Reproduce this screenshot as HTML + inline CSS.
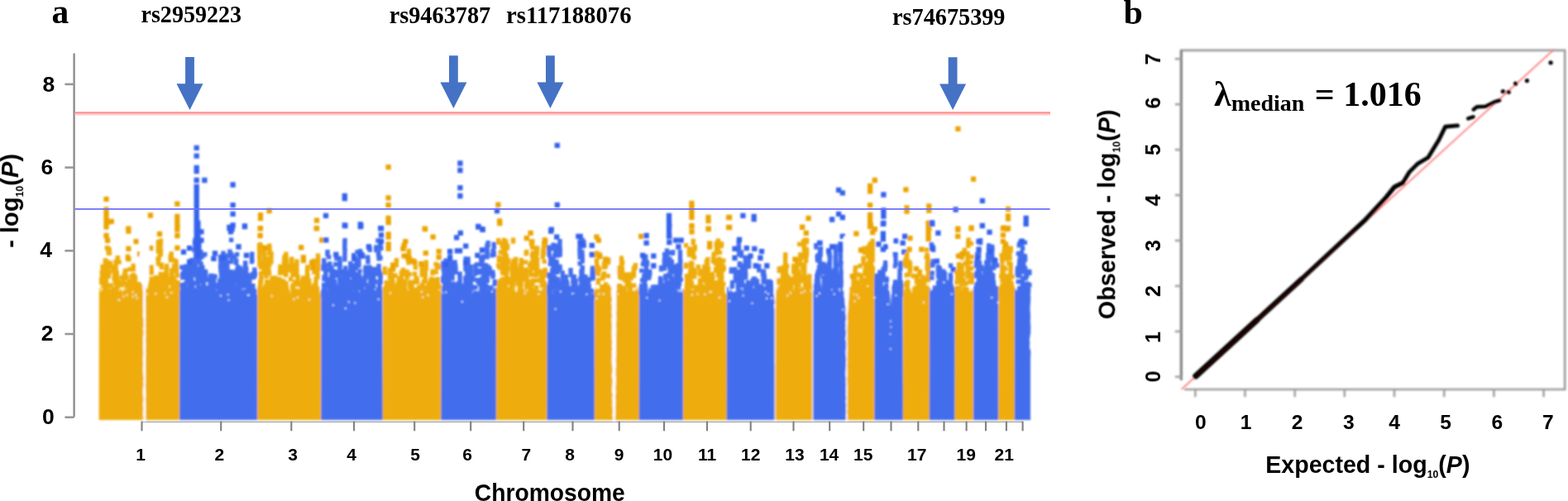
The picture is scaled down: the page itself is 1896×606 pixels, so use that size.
<!DOCTYPE html>
<html lang="en"><head><meta charset="utf-8"><title>Manhattan and QQ plot</title>
<style>
html,body{margin:0;padding:0;background:#fff;overflow:hidden}
svg{display:block}
.ss{filter:url(#bt);font-family:"Liberation Sans",sans-serif;font-weight:bold;fill:#000}
.sr{font-family:"Liberation Serif",serif;font-weight:bold;fill:#000}
</style></head><body>
<svg width="1896" height="606" viewBox="0 0 1896 606">
<defs><filter id="bl" x="-5%" y="-5%" width="110%" height="110%"><feGaussianBlur stdDeviation="0.9"/></filter><filter id="bt" x="-5%" y="-20%" width="110%" height="140%"><feGaussianBlur stdDeviation="0.45"/></filter><filter id="bl2" x="-5%" y="-5%" width="110%" height="110%"><feGaussianBlur stdDeviation="0.5"/></filter></defs>
<rect width="1896" height="606" fill="#fff"/>
<g filter="url(#bl2)" fill="none"><path d="M89.6 64.5V504.4" stroke="#8a8a8a" stroke-width="2.3"/><path d="M78.4 504.7H89.6" stroke="#989898" stroke-width="2.6"/><path d="M78.4 404H89.6" stroke="#989898" stroke-width="2.6"/><path d="M78.4 303.3H89.6" stroke="#989898" stroke-width="2.6"/><path d="M78.4 202.6H89.6" stroke="#989898" stroke-width="2.6"/><path d="M78.4 101.9H89.6" stroke="#989898" stroke-width="2.6"/><path d="M171.5 510.3H1236.6" stroke="#b4b4b4" stroke-width="1.8"/><path d="M171.5 509.6V521.3" stroke="#808080" stroke-width="2.1"/><path d="M267.2 509.6V521.3" stroke="#808080" stroke-width="2.1"/><path d="M352.3 509.6V521.3" stroke="#808080" stroke-width="2.1"/><path d="M428.1 509.6V521.3" stroke="#808080" stroke-width="2.1"/><path d="M501.2 509.6V521.3" stroke="#808080" stroke-width="2.1"/><path d="M569.2 509.6V521.3" stroke="#808080" stroke-width="2.1"/><path d="M633.2 509.6V521.3" stroke="#808080" stroke-width="2.1"/><path d="M692.5 509.6V521.3" stroke="#808080" stroke-width="2.1"/><path d="M748.7 509.6V521.3" stroke="#808080" stroke-width="2.1"/><path d="M803 509.6V521.3" stroke="#808080" stroke-width="2.1"/><path d="M855 509.6V521.3" stroke="#808080" stroke-width="2.1"/><path d="M907.7 509.6V521.3" stroke="#808080" stroke-width="2.1"/><path d="M959.5 509.6V521.3" stroke="#808080" stroke-width="2.1"/><path d="M1003.2 509.6V521.3" stroke="#808080" stroke-width="2.1"/><path d="M1044.2 509.6V521.3" stroke="#808080" stroke-width="2.1"/><path d="M1077.5 509.6V521.3" stroke="#808080" stroke-width="2.1"/><path d="M1110.3 509.6V521.3" stroke="#808080" stroke-width="2.1"/><path d="M1141.5 509.6V521.3" stroke="#808080" stroke-width="2.1"/><path d="M1168.6 509.6V521.3" stroke="#808080" stroke-width="2.1"/><path d="M1192 509.6V521.3" stroke="#808080" stroke-width="2.1"/><path d="M1216.9 509.6V521.3" stroke="#808080" stroke-width="2.1"/><path d="M1236.6 509.6V521.3" stroke="#808080" stroke-width="2.1"/></g>
<g filter="url(#bl)">
<path d="M119.6 508L119.8 348.2L120.8 348.2L120.8 353.1L121.8 353.1L121.8 344.5L122.8 344.5L122.8 351.6L123.8 351.6L123.8 346.3L124.8 346.3L124.8 344.7L125.8 344.7L125.8 344.3L126.8 344.3L126.8 346.6L127.8 346.6L127.8 351.9L128.8 351.9L128.8 346.8L129.8 346.8L129.8 351.1L130.8 351.1L130.8 352.3L131.8 352.3L131.8 350.6L132.8 350.6L132.8 351.4L133.8 351.4L133.8 346.2L134.8 346.2L134.8 345.4L135.8 345.4L135.8 346L136.8 346L136.8 349.5L137.8 349.5L137.8 346.4L138.8 346.4L138.8 346L139.8 346L139.8 349.1L140.8 349.1L140.8 348.5L141.8 348.5L141.8 347.7L142.8 347.7L142.8 352.8L143.8 352.8L143.8 352.6L144.8 352.6L144.8 348.3L145.8 348.3L145.8 351L146.8 351L146.8 350.3L147.8 350.3L147.8 353.3L148.8 353.3L148.8 351.7L149.8 351.7L149.8 347.5L150.8 347.5L150.8 353.3L151.8 353.3L151.8 345.2L152.8 345.2L152.8 347.5L153.8 347.5L153.8 350.1L154.8 350.1L154.8 344.2L155.8 344.2L155.8 346.9L156.8 346.9L156.8 343.4L157.8 343.4L157.8 349.7L158.8 349.7L158.8 351.1L159.8 351.1L159.8 350L160.8 350L160.8 353.3L161.8 353.3L161.8 348.9L162.8 348.9L162.8 351.7L163.8 351.7L163.8 350.2L164.8 350.2L164.8 349.4L165.8 349.4L165.8 347.7L166.8 347.7L166.8 351.1L167.8 351.1L167.8 352.6L168.8 352.6L168.8 348.9L169.8 348.9L169.8 350.6L170.8 350.6L170.8 345.1L171.8 345.1L171.8 350.9L172.8 350.9L172.8 350.8L173.8 350.8L173.8 354.4L174.8 354.4L174.8 352.4L175.8 352.4L175.8 347.1L176.8 347.1L176.8 347.5L177.8 347.5L177.8 349.5L178.8 349.5L178.8 343.2L179.8 343.2L179.8 346.7L180.8 346.7L180.8 344.1L181.8 344.1L181.8 343.7L182.8 343.7L182.8 343.2L183.8 343.2L183.8 349.6L184.8 349.6L184.8 343.9L185.8 343.9L185.8 345L186.8 345L186.8 346.7L187.8 346.7L187.8 351.5L188.8 351.5L188.8 344.8L189.8 344.8L189.8 348.5L190.8 348.5L190.8 349.9L191.8 349.9L191.8 353.3L192.8 353.3L192.8 353.3L193.8 353.3L193.8 354.2L194.8 354.2L194.8 349.5L195.8 349.5L195.8 351.3L196.8 351.3L196.8 351.3L197.8 351.3L197.8 356.6L198.8 356.6L198.8 356.3L199.8 356.3L199.8 348.1L200.8 348.1L200.8 347.4L201.8 347.4L201.8 347L202.8 347L202.8 346L203.8 346L203.8 347.4L204.8 347.4L204.8 348.4L205.8 348.4L205.8 345.6L206.8 345.6L206.8 343.4L207.8 343.4L207.8 347.3L208.8 347.3L208.8 347L209.8 347L209.8 348.9L210.8 348.9L210.8 352.9L211.8 352.9L211.8 351.1L212.8 351.1L212.8 350L213.8 350L213.8 351.5L214.8 351.5L214.8 352.6L215.8 352.6L215.8 347.5L216.8 347.5L216.8 355.5L217.5 355.5L217.5 508Z" fill="#EEAD0E"/>
<path d="M122.6 341.5h0M122.6 338.8h0M123.3 340.7h0M123.5 338.7h0M123.5 336.8h0M123.4 333.9h0M123.4 331.5h0M123.3 329.7h0M124.3 326.5h0M124.2 324.4h0M124 322.4h0M125.5 344.8h0M127.2 352.8h0M127.1 350.5h0M127.2 347.6h0M127 345.2h0M127.1 343.5h0M127.5 341.2h0M127.5 320.2h0M127.4 317.7h0M127.3 315h0M128.4 353.2h0M128.2 351.4h0M128.4 349.4h0M128.2 346.4h0M128.5 344.2h0M128 341.3h0M128.4 339.1h0M128 336.4h0M128.4 334.8h0M128.2 332.2h0M128.3 329.4h0M128.3 318.4h0M129.5 349.9h0M129.6 347.4h0M129.1 323.8h0M129.6 320.7h0M129.3 318.3h0M129.6 316.7h0M129.4 299.6h0M130.5 354.9h0M130.5 353.1h0M130.1 349.8h0M130.2 347.3h0M130.2 345.5h0M130.2 327h0M130.3 324.2h0M130 300.6h0M130.2 291.4h0M131.5 355.2h0M131.3 334.3h0M131.1 332h0M131.2 329.4h0M131.3 306h0M131.2 303.6h0M132 330h0M132.4 306.3h0M132.2 303.7h0M132.2 301.5h0M133 352.5h0M133.5 322.8h0M133.6 319.3h0M133.3 318.1h0M134.1 345.2h0M135.6 354h0M136.5 327h0M137.6 349.8h0M138.3 351.3h0M138.1 337.3h0M138.3 335h0M138.4 332.1h0M138.3 323h0M139.1 339.9h0M140 342.9h0M140.3 341h0M140.2 326.3h0M140.1 324.5h0M140.1 322.2h0M140.1 320.2h0M140.1 316.8h0M141.3 351.6h0M141.1 348.8h0M141.4 346.7h0M141.2 343.7h0M141.5 341.9h0M141.5 337.1h0M141.4 334.4h0M141.1 331.8h0M141.2 330h0M142.1 316.6h0M142.1 313.2h0M142.4 311.6h0M143.1 345.5h0M143.2 342.7h0M143.2 340.2h0M144.4 342.9h0M144.1 317.1h0M147.3 344.7h0M147.3 335.7h0M149 342.8h0M149.2 339.5h0M149.1 337.9h0M149.1 335.7h0M150.4 332.8h0M151.6 353.7h0M151.4 335h0M151 331.9h0M151.1 330.3h0M151.4 327.8h0M152.3 336h0M152.5 334.2h0M152.2 327.1h0M153.4 345.8h0M153.6 342.9h0M153 336.3h0M154.2 311.9h0M154.5 310.1h0M156.4 347.1h0M156.4 344.2h0M156 341.4h0M157.2 325.8h0M158.4 342.8h0M158.6 340.5h0M159.5 339.2h0M159.3 336.4h0M159.1 334.1h0M160.4 353.9h0M160.1 351.6h0M160.4 339.5h0M160.5 334.7h0M161.5 350.3h0M161.3 347.4h0M161 345.5h0M161.1 342.1h0M161.5 339.7h0M161.4 337.5h0M161.4 335.6h0M161.4 332.7h0M161.1 326h0M161.2 323.2h0M161.1 321.4h0M162.3 343.8h0M163.3 355h0M163.2 352.2h0M163.4 350.2h0M163.2 347.3h0M163.1 344.5h0M163.2 342.5h0M163.1 339.7h0M163.5 338h0M163.4 335.1h0M164.3 354.1h0M164.1 352h0M168.3 352.8h0M168.3 351.3h0M168.2 347.9h0M168.5 345.5h0M168.1 343.6h0M170.5 353.4h0M170.1 351h0M170 349.1h0M170.1 346.7h0M182.4 344h0M182.5 341.7h0M183.5 352h0M183.1 349.7h0M183.2 346.9h0M183.5 344.4h0M183.2 337.1h0M183.1 330.1h0M183.3 327.8h0M183 325.7h0M183 323.2h0M185.2 349.1h0M186.5 342.7h0M186.1 339.5h0M186.5 337.7h0M187.1 349.4h0M187.5 345h0M187.4 342.8h0M187.4 340.1h0M188.5 335.7h0M189.5 353.2h0M189.6 350.4h0M189.1 348.8h0M190.4 353h0M190.6 351.4h0M190.1 344.4h0M190 341.7h0M190.3 338.8h0M190.6 336.7h0M191.4 351.8h0M191.3 349.4h0M191.4 318.9h0M191.4 315.9h0M191.1 313.2h0M191.4 304h0M191.3 301.6h0M191.4 297.5h0M191.4 295.3h0M191.4 292.6h0M192.2 312.1h0M192.2 300.3h0M192.3 297h0M192.6 295.4h0M192.3 293.1h0M193.4 345.9h0M193.3 343.4h0M193.2 340.2h0M193.2 338.6h0M193.2 336.2h0M193.5 307.4h0M193.3 305.6h0M193.4 300.4h0M193.5 298h0M193.5 295.6h0M193.3 293.7h0M194.4 353.4h0M194 351h0M194.4 349h0M194.6 333.9h0M194.2 331.5h0M194.2 320.4h0M194.3 307.9h0M194.3 305.8h0M194.5 303h0M194.2 296.3h0M194.3 293.6h0M194.5 291.2h0M195.5 323.4h0M195.4 320.2h0M196.2 356.7h0M196.3 353.7h0M196.4 351.7h0M196.1 349.8h0M196.6 347.7h0M197.3 349.5h0M197.5 347.7h0M197 345.2h0M197.4 342.4h0M197.2 340.3h0M197.1 337.7h0M198.2 336.3h0M198.5 333.4h0M198.1 331.7h0M201.3 347.1h0M201.5 345.2h0M201.3 342.8h0M201.2 341h0M201.2 337.7h0M201.4 335.8h0M201.5 333h0M201 331.5h0M201.2 329.3h0M201.1 326.8h0M201.5 323.9h0M201.6 321.6h0M202.4 351.4h0M205.3 342.9h0M205.2 340.6h0M205.2 338.1h0M206.4 314.7h0M206.1 311.6h0M206.4 310.2h0M207.5 335.2h0M207.3 332.9h0M207.4 331.2h0M207.3 328.8h0M207.5 326.9h0M207.3 314h0M207.4 312.3h0M207.2 309.4h0M207.2 307h0M208.1 331h0M209.1 348h0M209 345.9h0M209.5 338.5h0M209.2 336.2h0M210.6 352.5h0M210.5 350.8h0M210.4 347.5h0M210.6 346h0M210 343h0M210.5 321.5h0M211.5 353.7h0M211.1 351.1h0M211.3 348.1h0M211.4 339.5h0M211 314.9h0M212.3 345h0M212.6 342.3h0M212.1 325.9h0M213.2 352.3h0M213.4 328h0M213.6 326.1h0M213.4 323.7h0M213.2 320.7h0M213 318.7h0M213.1 316.5h0M214.5 354.5h0M214.4 352.8h0M214.1 349.7h0M214.5 333.2h0M215.1 353.1h0M215.1 350.7h0M215 348.2h0M215.6 346.1h0M215.1 343.9h0M215.5 341.8h0" stroke="#EEAD0E" stroke-width="5.4" stroke-linecap="square" fill="none"/>
<path d="M128.5 240.8h0M134.8 267.8h0M155.3 276.7h0M181.9 260.5h0M214.3 246.7h0M128.5 253.5h0M128.5 256.1h0M128.5 258.7h0M128.5 261.3h0M128.5 263.9h0M128.5 266.5h0M128.5 269.1h0M128.5 271.7h0M128.5 274.3h0M214.3 262h0M214.3 264.6h0M214.3 267.2h0M214.3 269.8h0M214.3 272.4h0M214.3 275h0M214.3 277.6h0M128.5 273.2h0M128.5 285h0M130.1 290.6h0M155.4 279.5h0M164.6 292.2h0M155.4 300.9h0M169.2 307.2h0M155.4 313.1h0M182.1 300.1h0M193 283h0M214.4 273.2h0M214.4 285h0M214.4 299.8h0M131.7 268.4h0" stroke="#EBA406" stroke-width="6.3" stroke-linecap="square" fill="none"/>
<path d="M217.1 508L217.3 351.6L218.3 351.6L218.3 348.4L219.3 348.4L219.3 345L220.3 345L220.3 350.7L221.3 350.7L221.3 345.2L222.3 345.2L222.3 352.6L223.3 352.6L223.3 347.8L224.3 347.8L224.3 345.5L225.3 345.5L225.3 351.9L226.3 351.9L226.3 345.9L227.3 345.9L227.3 346.4L228.3 346.4L228.3 345.6L229.3 345.6L229.3 348.3L230.3 348.3L230.3 343L231.3 343L231.3 346.7L232.3 346.7L232.3 345.4L233.3 345.4L233.3 351.9L234.3 351.9L234.3 345L235.3 345L235.3 351L236.3 351L236.3 347.4L237.3 347.4L237.3 348.8L238.3 348.8L238.3 349.4L239.3 349.4L239.3 350.3L240.3 350.3L240.3 344.8L241.3 344.8L241.3 345.3L242.3 345.3L242.3 344.3L243.3 344.3L243.3 351.9L244.3 351.9L244.3 344.7L245.3 344.7L245.3 344.6L246.3 344.6L246.3 348.2L247.3 348.2L247.3 348.8L248.3 348.8L248.3 352.3L249.3 352.3L249.3 345.5L250.3 345.5L250.3 347.9L251.3 347.9L251.3 348L252.3 348L252.3 352.5L253.3 352.5L253.3 352.1L254.3 352.1L254.3 351.5L255.3 351.5L255.3 355.5L256.3 355.5L256.3 353.3L257.3 353.3L257.3 354.9L258.3 354.9L258.3 355.5L259.3 355.5L259.3 349.1L260.3 349.1L260.3 355.6L261.3 355.6L261.3 351.3L262.3 351.3L262.3 348.6L263.3 348.6L263.3 356.8L264.3 356.8L264.3 350L265.3 350L265.3 349.7L266.3 349.7L266.3 351.4L267.3 351.4L267.3 350.7L268.3 350.7L268.3 356.1L269.3 356.1L269.3 354.5L270.3 354.5L270.3 349.7L271.3 349.7L271.3 350L272.3 350L272.3 353.2L273.3 353.2L273.3 353.2L274.3 353.2L274.3 352.2L275.3 352.2L275.3 351.3L276.3 351.3L276.3 348.1L277.3 348.1L277.3 349.6L278.3 349.6L278.3 352.5L279.3 352.5L279.3 350.9L280.3 350.9L280.3 352L281.3 352L281.3 352L282.3 352L282.3 351.7L283.3 351.7L283.3 343.8L284.3 343.8L284.3 344L285.3 344L285.3 352.7L286.3 352.7L286.3 351L287.3 351L287.3 348.7L288.3 348.7L288.3 354.6L289.3 354.6L289.3 351.9L290.3 351.9L290.3 350.8L291.3 350.8L291.3 351L292.3 351L292.3 351.4L293.3 351.4L293.3 351.9L294.3 351.9L294.3 345.5L295.3 345.5L295.3 350.5L296.3 350.5L296.3 349.8L297.3 349.8L297.3 348.8L298.3 348.8L298.3 350.9L299.3 350.9L299.3 352.4L300.3 352.4L300.3 345.6L301.3 345.6L301.3 350.1L302.3 350.1L302.3 352L303.3 352L303.3 352.3L304.3 352.3L304.3 351.8L305.3 351.8L305.3 347.6L306.3 347.6L306.3 354.7L307.3 354.7L307.3 353.2L308.3 353.2L308.3 348.8L309.3 348.8L309.3 351.1L310.3 351.1L310.3 356.5L311.3 356.5L311.5 508Z" fill="#436EEE"/>
<path d="M220.1 344.6h0M219.8 323.2h0M220.6 351.8h0M220.6 349.3h0M221 347.7h0M220.9 335.8h0M220.5 333.6h0M220.8 331.3h0M221.9 352.7h0M222 350.2h0M221.9 347.4h0M222.5 333.3h0M223 330.9h0M222.5 329.5h0M222.7 326.9h0M224 345.2h0M224 343.7h0M225.1 323.7h0M224.8 322.2h0M225.5 352.2h0M226.1 349.9h0M226 340.5h0M226 338.5h0M225.5 335.8h0M225.8 330.4h0M225.8 329h0M226.8 337.9h0M227 335.3h0M226.8 332.5h0M230.1 351.1h0M229.6 349.2h0M229.7 346.2h0M229.6 344.7h0M229.6 339.5h0M230 331.8h0M229.9 329.9h0M229.9 327.2h0M229.7 324.7h0M229.5 322.6h0M229.6 320.4h0M229.6 317.9h0M230.8 346.5h0M230.9 344.7h0M230.5 342.7h0M230.8 340.2h0M230.9 337.6h0M231.8 337.6h0M231.7 335.8h0M231.9 330.6h0M232 328.8h0M232 326.7h0M231.8 323.8h0M232 321.3h0M231.7 319.5h0M231.8 316.8h0M232 314.7h0M232.8 352.3h0M233 351h0M232.9 348.6h0M232.7 346.2h0M233.1 343.6h0M234.7 354.2h0M234.8 342.3h0M234.6 330.4h0M234.7 328.5h0M234.7 326h0M234.8 323h0M234.9 302.1h0M236 332.7h0M235.8 330.3h0M235.8 328.7h0M236 316.4h0M236.1 303h0M236.1 299.7h0M236.1 297.3h0M236 295.6h0M235.5 293.2h0M236 290.5h0M236.5 351.8h0M236.7 323.3h0M236.7 320.6h0M236.7 318h0M237 315.7h0M236.5 313.5h0M236.9 311.3h0M236.7 308.6h0M236.9 300.1h0M236.5 297.2h0M236.5 294.5h0M237.6 329.6h0M237.7 325.4h0M238.7 336.5h0M238.9 334.8h0M238.7 327.4h0M238.8 310.5h0M238.8 308.4h0M239.9 347.9h0M239.6 345.3h0M239.6 343.8h0M239.6 340.8h0M240.1 339.3h0M239.9 317h0M239.8 314.7h0M239.9 313h0M239.8 310.6h0M239.8 295.7h0M240.1 294.2h0M239.6 291.1h0M241 314.2h0M240.7 312.2h0M240.8 299.9h0M240.8 297.7h0M241 295.8h0M240.7 293.6h0M240.9 291.3h0M241.7 336h0M241.7 332.6h0M242 330.8h0M241.6 328h0M243 340.9h0M242.9 337.6h0M243 335.5h0M242.6 333h0M242.9 330.4h0M243 327.9h0M242.9 324h0M242.9 320.9h0M243.1 319.1h0M242.5 311.6h0M243.1 309.7h0M242.9 307.6h0M242.8 304.6h0M244.9 329h0M244.9 325.9h0M244.8 323.4h0M244.8 310.1h0M246 352.1h0M245.5 350.5h0M245.6 348.1h0M246 345.7h0M245.9 342.9h0M245.5 340.2h0M245.7 338h0M245.8 335.5h0M245.9 333.8h0M246.7 345.2h0M246.5 335.4h0M246.7 333.9h0M246.6 330.6h0M247.1 328.5h0M247.5 333.7h0M248 331.7h0M248 328.4h0M247.8 307.7h0M248.8 352.9h0M248.8 338.8h0M248.9 336.7h0M248.8 334.1h0M248.7 332.3h0M248.7 329.3h0M251 352.4h0M251 350.1h0M250.8 348.2h0M250.6 338.7h0M254 349.3h0M254 347.4h0M254.1 344.6h0M254.8 343h0M254.8 339.7h0M254.9 337.3h0M254.6 335.8h0M255 333.4h0M257.1 356.4h0M257 354.4h0M257 351.6h0M258 351h0M257.5 348.8h0M258.8 350.9h0M258.8 348.7h0M259 346.8h0M258.9 343.5h0M258.5 341.6h0M258.8 339.2h0M258.9 337.1h0M258.6 334h0M259.8 355.1h0M260.1 334.6h0M261.7 347.6h0M261.9 344.6h0M265.8 359h0M265.7 356.4h0M265.6 353.5h0M265.8 351h0M265.8 349.5h0M265.5 346.9h0M265.8 344.3h0M265.7 341.4h0M265.8 339.6h0M266.6 355.5h0M266.9 353.4h0M266.7 350.5h0M266.9 327h0M266.6 322.3h0M267.1 320.1h0M267 317.4h0M266.8 314.9h0M266.6 313.2h0M266.5 310.6h0M267.6 338.6h0M267.6 336.2h0M267.6 333.4h0M267.6 330.7h0M267.5 328.3h0M267.8 326.7h0M268 323.6h0M268 321.7h0M267.9 319.1h0M267.5 316.9h0M267.7 314.9h0M268.6 354h0M268.6 351.3h0M268.9 349.2h0M268.6 346.9h0M268.6 344h0M268.6 341.6h0M269.7 346.2h0M269.9 330h0M270 317.2h0M270.1 315h0M270 312.9h0M269.6 311.1h0M269.6 308.8h0M270 306.1h0M271 348h0M271 345.3h0M271.1 343.5h0M271 341.3h0M271.9 352.3h0M271.8 349.5h0M272.7 354.6h0M273.1 352.1h0M272.6 349.7h0M272.9 347.9h0M272.5 344.7h0M273 343.2h0M273 335.8h0M272.7 332.9h0M272.8 330.5h0M272.6 328.3h0M272.7 326.5h0M272.9 323.7h0M273 319.1h0M273 316.7h0M272.6 314.1h0M272.6 309.2h0M273.9 355h0M273.7 352.6h0M273.8 349.8h0M274 348h0M273.9 345.4h0M274.1 342.8h0M273.6 314.3h0M274.6 355.5h0M274.9 353.1h0M274.9 350.8h0M274.8 339.1h0M274.8 335.8h0M275 334h0M274.7 331.3h0M274.9 329.2h0M275 327.4h0M274.8 324.6h0M275 322.7h0M274.8 319.7h0M274.9 317.5h0M275.9 351.5h0M276.7 343.6h0M276.5 341.9h0M276.8 339.6h0M276.8 336.8h0M277.1 335h0M277.9 356.6h0M278 346.7h0M277.7 344.3h0M277.8 342.7h0M277.6 339.5h0M277.9 337h0M278.1 335.6h0M277.6 309.4h0M277.9 304.2h0M278.6 340.9h0M279.1 339.4h0M278.7 336.7h0M278.6 334.8h0M280 330.4h0M280 328.6h0M280 316.5h0M280 314.4h0M280.1 311.9h0M279.9 309.8h0M279.8 307.5h0M279.6 290.3h0M281.1 353.4h0M280.7 351.3h0M281.1 348.9h0M280.6 346.7h0M281 343.8h0M280.5 341.4h0M281 339.6h0M280.8 336.9h0M280.9 334.6h0M281.1 332.4h0M281.6 352.9h0M281.9 350.7h0M281.5 348.1h0M282 345.7h0M282.1 343.3h0M281.6 338.7h0M281.9 336.7h0M281.9 333.6h0M282 331.3h0M283.1 341.9h0M283.8 339.3h0M283.6 337.3h0M283.8 334h0M283.7 310.4h0M285.5 353.5h0M285.7 339.8h0M285.9 337.5h0M285.9 335.1h0M285.5 329.5h0M285.7 318h0M285.7 315.3h0M286.6 354.6h0M287 353h0M286.6 350.3h0M286.7 333h0M286.7 330.8h0M286.8 328.2h0M286.7 326.6h0M286.6 307.8h0M287.5 356.4h0M287.9 353.6h0M287.8 350.8h0M287.8 346.1h0M287.6 325.7h0M287.8 322.9h0M288.8 355.3h0M288.8 353h0M288.9 350.2h0M288.9 347.8h0M288.7 344.9h0M289.1 343h0M289.1 340.3h0M288.8 338.2h0M288.6 335.9h0M288.7 333.2h0M288.5 331.1h0M288.5 328.5h0M288.9 326h0M290 349.2h0M289.7 347.3h0M290 344.7h0M291.1 346h0M290.7 343.1h0M290.5 340.9h0M290.6 338.6h0M290.6 336.9h0M290.7 334.3h0M290.7 324.5h0M292.8 346.5h0M292.8 343.9h0M292.8 341.8h0M292.6 339.7h0M292.5 336.4h0M294 333.4h0M293.7 330.7h0M293.7 328.8h0M294.7 353.3h0M295 341.4h0M295.6 343h0M296.1 341.1h0M295.8 338.4h0M295.9 331.6h0M295.9 329.6h0M296.1 327.1h0M296.8 345.9h0M296.5 343.6h0M296.8 340.8h0M296.8 339.1h0M296.6 336.6h0M296.6 333.8h0M296.5 331.8h0M296.9 330h0M296.8 327.5h0M296.6 325.3h0M296.9 322.4h0M296.5 320.1h0M296.7 318h0M297.7 327.9h0M297.8 325.5h0M299.8 353.7h0M299.6 352.1h0M299.5 349.4h0M299.6 347.3h0M299.6 344.2h0M299.5 337.4h0M301.9 352.1h0M302.1 349.8h0M301.7 347.2h0M301.8 344.9h0M301.9 342.9h0M301.8 340.5h0M301.9 338.8h0M301.5 335.4h0M301.7 333h0M302.8 350.1h0M302.7 348.4h0M303 345.9h0M304 354.6h0M304.9 355.5h0M304.9 352.9h0M304.7 349.9h0M304.5 316.5h0M304.9 314.6h0M304.6 312.8h0M304.6 309.7h0M304.8 307.3h0M305.7 355.5h0M305.8 352.9h0M305.6 350h0M305.7 348.3h0M305.9 345.8h0M306 335.5h0M305.5 334.1h0M305.9 331.4h0M307.6 355.1h0M307.6 352.2h0M307.6 334.2h0M307.6 331.5h0M307.9 329.4h0M307.8 326.2h0M308.5 331.5h0" stroke="#436EEE" stroke-width="5.4" stroke-linecap="square" fill="none"/>
<path d="M237.7 178.9h0M237.7 188.6h0M237.7 202.8h0M237.7 207h0M237.7 218h0M247.4 218h0M281.6 223.5h0M281.6 248.2h0M281.6 258.8h0M281.6 272.5h0M277.4 276.1h0M296 273.5h0M237.7 226h0M237.7 228.2h0M237.7 230.4h0M237.7 232.6h0M237.7 234.8h0M237.7 237h0M237.7 239.2h0M237.7 241.4h0M237.7 243.6h0M237.7 245.8h0M237.7 248h0M237.7 250.2h0M237.7 252.4h0M237.7 254.6h0M237.7 256.8h0M237.7 259h0M237.7 261.2h0M237.7 263.4h0M237.7 265.6h0M237.7 267.8h0M237.7 270h0M237.7 272.2h0M237.7 274.4h0M237.7 276.6h0M237.7 278.8h0M237.7 281h0M237.7 283.2h0M237.7 285.4h0M237.7 287.6h0M237.7 289.8h0M237.7 292h0M237.7 294.2h0M237.7 296.4h0M237.7 298.6h0M277.4 274.8h0M280.6 277.1h0M279 280.3h0M295.9 274h0M288.5 298.5h0M260 306.4h0M298 308.8h0M229.1 300.1h0M222 304.8h0M229.1 316.7h0M243.4 280.3h0M243.4 290.6h0M258.4 312.8h0M269.5 312h0M239.4 270h0M239.4 272.2h0M239.4 274.4h0M239.4 276.6h0M239.4 278.8h0M239.4 281h0M239.4 283.2h0M239.4 285.4h0M239.4 287.6h0M239.4 289.8h0M239.4 292h0M239.4 294.2h0M239.4 296.4h0M239.4 298.6h0M239.4 300.8h0M239.4 303h0M239.4 305.2h0M239.4 307.4h0M239.4 309.6h0" stroke="#3562EC" stroke-width="6.3" stroke-linecap="square" fill="none"/>
<path d="M311.1 508L311.3 353.3L312.3 353.3L312.3 354.8L313.3 354.8L313.3 346.8L314.3 346.8L314.3 347.6L315.3 347.6L315.3 351.1L316.3 351.1L316.3 347.5L317.3 347.5L317.3 346.8L318.3 346.8L318.3 344L319.3 344L319.3 344L320.3 344L320.3 347.5L321.3 347.5L321.3 348.6L322.3 348.6L322.3 347.6L323.3 347.6L323.3 352.7L324.3 352.7L324.3 347.4L325.3 347.4L325.3 346.7L326.3 346.7L326.3 346.9L327.3 346.9L327.3 348.6L328.3 348.6L328.3 352.9L329.3 352.9L329.3 354.6L330.3 354.6L330.3 355.6L331.3 355.6L331.3 356.1L332.3 356.1L332.3 353.7L333.3 353.7L333.3 350.8L334.3 350.8L334.3 354.3L335.3 354.3L335.3 356.7L336.3 356.7L336.3 357.2L337.3 357.2L337.3 352.3L338.3 352.3L338.3 352L339.3 352L339.3 350.6L340.3 350.6L340.3 351.7L341.3 351.7L341.3 351.9L342.3 351.9L342.3 353.5L343.3 353.5L343.3 353.9L344.3 353.9L344.3 351.4L345.3 351.4L345.3 347.8L346.3 347.8L346.3 356.7L347.3 356.7L347.3 351.3L348.3 351.3L348.3 356.1L349.3 356.1L349.3 350.9L350.3 350.9L350.3 354.8L351.3 354.8L351.3 347.5L352.3 347.5L352.3 350.7L353.3 350.7L353.3 344.3L354.3 344.3L354.3 351.8L355.3 351.8L355.3 349.7L356.3 349.7L356.3 349.8L357.3 349.8L357.3 351.8L358.3 351.8L358.3 349.3L359.3 349.3L359.3 356.6L360.3 356.6L360.3 352.4L361.3 352.4L361.3 357.8L362.3 357.8L362.3 356.5L363.3 356.5L363.3 352.6L364.3 352.6L364.3 356.5L365.3 356.5L365.3 353.5L366.3 353.5L366.3 351.7L367.3 351.7L367.3 347.8L368.3 347.8L368.3 348.2L369.3 348.2L369.3 351.9L370.3 351.9L370.3 352.8L371.3 352.8L371.3 347.8L372.3 347.8L372.3 355.6L373.3 355.6L373.3 355.8L374.3 355.8L374.3 354.1L375.3 354.1L375.3 355.3L376.3 355.3L376.3 350.9L377.3 350.9L377.3 355L378.3 355L378.3 349.9L379.3 349.9L379.3 351.7L380.3 351.7L380.3 349.3L381.3 349.3L381.3 350.9L382.3 350.9L382.3 356L383.3 356L383.3 354.5L384.3 354.5L384.3 356.8L385.3 356.8L385.3 350.6L386.3 350.6L386.3 356.5L387.3 356.5L387.3 352.7L388.3 352.7L388.6 508Z" fill="#EEAD0E"/>
<path d="M313.9 353.1h0M313.8 350.5h0M314 348.6h0M313.9 320.3h0M314.1 317.9h0M314 315.7h0M314 312.8h0M313.7 310.6h0M313.7 307.6h0M313.9 306h0M314 302.8h0M313.5 301.1h0M313.6 298.7h0M313.5 296.9h0M314.8 345.5h0M314.7 343.2h0M314.7 340.9h0M314.7 305.2h0M315.1 302.9h0M314.5 300.1h0M314.9 297.6h0M314.7 295.7h0M315.7 340.5h0M315.7 337.8h0M316.1 335.9h0M315.6 332.5h0M315.7 330.8h0M315.6 323.2h0M315.8 320.9h0M316.8 301.3h0M317.1 298.9h0M319 326.9h0M319 325h0M319.1 322h0M320 329.3h0M319.9 326.9h0M320.1 322.2h0M320 320.2h0M319.5 317.5h0M319.8 315.4h0M320 312.4h0M319.5 309.8h0M319.8 308.4h0M319.7 305.4h0M319.7 303.4h0M319.5 300.9h0M321.9 350.5h0M322.1 334.2h0M321.7 331h0M322 328.7h0M321.9 326.8h0M322.6 352.3h0M322.6 350.5h0M322.8 347.5h0M322.7 345.3h0M322.6 343.3h0M322.8 340.6h0M323.1 331h0M323 329.1h0M324 353h0M324 350.4h0M323.9 329.5h0M323.6 326.3h0M323.6 324.8h0M324.1 322.3h0M323.6 319.6h0M324 317.8h0M323.5 315.1h0M323.9 312.9h0M324.6 351.1h0M324.9 348.4h0M325 346.6h0M325 329.1h0M324.9 326.9h0M325.8 353.9h0M325.8 351.8h0M325.6 348.8h0M325.8 344.3h0M325.5 341.4h0M325.5 330.4h0M325.7 320.6h0M325.6 306.6h0M326 303.4h0M326.1 301.5h0M325.9 298.8h0M325.7 297.1h0M326.7 354.5h0M327.7 349.3h0M328 347.1h0M327.7 345.4h0M328 316.9h0M327.7 314.2h0M327.9 311.9h0M328 309.1h0M328.1 306.9h0M328.7 355.2h0M328.7 352.8h0M328.6 350.8h0M329 347.5h0M328.8 345.5h0M329 343h0M328.6 341.3h0M329 338.4h0M328.9 336.2h0M329.6 355.8h0M330 353.5h0M330.1 350.2h0M329.8 347.9h0M330.9 346.8h0M330.8 344.6h0M330.8 341.7h0M330.7 339.3h0M332.6 351.8h0M332.7 347.6h0M332.6 345.4h0M333.1 342.4h0M332.6 340.3h0M332.5 338.5h0M332.9 336.2h0M333.9 357.2h0M333.8 355.5h0M334.1 353.2h0M334.9 346.5h0M334.8 343.9h0M335.8 356.6h0M336.1 354.5h0M335.7 351.5h0M335.7 349.5h0M335.6 346.9h0M336.6 348.6h0M337 346h0M338 354.6h0M337.7 352.3h0M337.6 345.3h0M338 343h0M337.9 339.9h0M337.9 337.7h0M338.9 355.5h0M338.7 354h0M338.8 351h0M339 348.8h0M339.1 346.4h0M338.6 344.1h0M338.6 330.2h0M338.7 327.9h0M338.9 325.2h0M339 322.5h0M339.8 355.5h0M340.1 353.1h0M339.7 343.8h0M340 341.4h0M341.8 348.8h0M341.9 341.3h0M342.6 354.5h0M342.7 351.5h0M342.7 349.6h0M342.5 346.6h0M342.6 340h0M343 330.1h0M343.1 328.5h0M343.6 350.8h0M343.6 324h0M343.8 321.7h0M344 319.4h0M343.5 317.3h0M343.8 314.3h0M343.9 312.5h0M344 310.7h0M344.8 320h0M344.7 317.9h0M345.1 315.7h0M344.7 313.4h0M346.1 346.8h0M346.1 344.4h0M345.8 342.8h0M345.6 332.5h0M345.9 331.2h0M345.7 328.8h0M345.7 325.5h0M345.6 323.7h0M345.8 321.6h0M345.7 318.8h0M345.9 316.7h0M345.7 314.3h0M346.1 311.8h0M345.9 309.4h0M345.9 307.1h0M346.8 353.1h0M346.9 350.6h0M346.5 348.1h0M346.7 327h0M346.6 315.4h0M348 358.6h0M347.8 356.5h0M347.9 353.4h0M348.6 326.8h0M348.8 324.3h0M348.7 321.3h0M351.6 337.7h0M353 319.4h0M352.6 317.7h0M352.6 315.6h0M352.8 313.3h0M353.7 347.4h0M354.1 345.2h0M354 332.5h0M353.8 330.1h0M354 327.9h0M354 325.9h0M353.7 324h0M353.7 321.1h0M354.7 353.1h0M354.9 350h0M355.8 354.3h0M357 343.6h0M356.6 341.3h0M357.6 356h0M359 354.5h0M358.7 351.8h0M358.7 332.9h0M358.7 331.1h0M359 328.5h0M358.6 326.2h0M358.8 323.4h0M358.8 321h0M359 319.2h0M358.9 316.2h0M359.8 339.6h0M359.9 337h0M360.1 334.9h0M360.5 344.2h0M362.7 353.4h0M363.5 358.2h0M363.6 356.5h0M364.1 353.5h0M364.6 349.5h0M364.6 346.3h0M364.6 344.8h0M365 342.6h0M365.9 358.5h0M365.6 340h0M366.6 357h0M367 355.7h0M366.5 351h0M366.7 348.4h0M366.7 345.4h0M366.9 343.9h0M366.6 341.1h0M366.8 338.7h0M366.6 336.2h0M368.1 356.5h0M368.7 338.6h0M371.7 353.6h0M371.8 351.7h0M372.1 349.3h0M371.5 346h0M372 343.9h0M372 341.8h0M371.6 339.5h0M371.9 337.5h0M372 334.5h0M371.7 332.7h0M371.5 329.9h0M371.5 327h0M371.8 324.6h0M372 322.9h0M373.7 355.9h0M373.6 354.1h0M373.8 352h0M373.9 342h0M373.6 339.4h0M376.9 357.1h0M376.6 347h0M377.9 356.8h0M377.9 354.8h0M377.7 352.1h0M378.8 352.4h0M379.7 350.2h0M379.6 348.1h0M380 329.2h0M379.9 327.4h0M379.6 324.6h0M379.8 322.8h0M379.8 319.5h0M379.9 318h0M379.8 315.4h0M380.7 344.6h0M381.7 352.1h0M381.9 349.6h0M381.9 347h0M381.9 345.6h0M382 343h0M382 340.7h0M382.1 337.5h0M381.5 322h0M381.8 318.6h0M383.5 358.3h0M383.7 356.6h0M383.6 353.9h0M383.7 351.2h0M383.7 349h0M384.1 335.4h0M383.7 332.5h0M384 330.6h0M384.8 325.3h0M384.8 323.2h0M384.9 320.9h0M384.5 318.4h0M384.8 315.7h0M384.9 313.5h0M384.6 311.4h0M384.5 309.2h0M385.9 358.2h0" stroke="#EEAD0E" stroke-width="5.4" stroke-linecap="square" fill="none"/>
<path d="M315 260.2h0M315 264h0M325.6 255h0M315 276.1h0M383 266.6h0M383 276.1h0M314.6 276.3h0M314.6 285h0M321 299.8h0M364.2 299.3h0M366.9 311.5h0M366.9 315.1h0M377.2 317.5h0M378.3 323.9h0M382.7 276.3h0M389.1 290.3h0" stroke="#EBA406" stroke-width="6.3" stroke-linecap="square" fill="none"/>
<path d="M388.2 508L388.4 349.9L389.4 349.9L389.4 350.7L390.4 350.7L390.4 352.9L391.4 352.9L391.4 347L392.4 347L392.4 349.2L393.4 349.2L393.4 344.5L394.4 344.5L394.4 350.1L395.4 350.1L395.4 345L396.4 345L396.4 352.4L397.4 352.4L397.4 353.2L398.4 353.2L398.4 354.5L399.4 354.5L399.4 349.2L400.4 349.2L400.4 353.7L401.4 353.7L401.4 348.4L402.4 348.4L402.4 356.6L403.4 356.6L403.4 354.2L404.4 354.2L404.4 348.4L405.4 348.4L405.4 349.5L406.4 349.5L406.4 349.3L407.4 349.3L407.4 350.9L408.4 350.9L408.4 355.7L409.4 355.7L409.4 353.8L410.4 353.8L410.4 349.1L411.4 349.1L411.4 352.9L412.4 352.9L412.4 345.2L413.4 345.2L413.4 350.7L414.4 350.7L414.4 349.9L415.4 349.9L415.4 347.8L416.4 347.8L416.4 356L417.4 356L417.4 354.4L418.4 354.4L418.4 358.1L419.4 358.1L419.4 354.7L420.4 354.7L420.4 354.4L421.4 354.4L421.4 349.8L422.4 349.8L422.4 352.7L423.4 352.7L423.4 356.4L424.4 356.4L424.4 353.2L425.4 353.2L425.4 353.5L426.4 353.5L426.4 351.6L427.4 351.6L427.4 350.3L428.4 350.3L428.4 346.8L429.4 346.8L429.4 348.3L430.4 348.3L430.4 347.7L431.4 347.7L431.4 346.5L432.4 346.5L432.4 345.9L433.4 345.9L433.4 351.9L434.4 351.9L434.4 353.8L435.4 353.8L435.4 350.8L436.4 350.8L436.4 351.7L437.4 351.7L437.4 346L438.4 346L438.4 351.6L439.4 351.6L439.4 347.2L440.4 347.2L440.4 351.3L441.4 351.3L441.4 345.6L442.4 345.6L442.4 346L443.4 346L443.4 347.9L444.4 347.9L444.4 345.1L445.4 345.1L445.4 345.3L446.4 345.3L446.4 349.4L447.4 349.4L447.4 349.8L448.4 349.8L448.4 351.5L449.4 351.5L449.4 349.1L450.4 349.1L450.4 347L451.4 347L451.4 348.7L452.4 348.7L452.4 350.4L453.4 350.4L453.4 351L454.4 351L454.4 354.6L455.4 354.6L455.4 351.4L456.4 351.4L456.4 354.9L457.4 354.9L457.4 350.6L458.4 350.6L458.4 350.3L459.4 350.3L459.4 346.5L460.4 346.5L460.4 349.1L461.4 349.1L461.4 350.1L462.4 350.1L463 508Z" fill="#436EEE"/>
<path d="M390.7 356.3h0M391.1 353.3h0M390.9 325.1h0M391 322.3h0M391.8 350.2h0M392.2 347.7h0M391.7 344.8h0M392.1 337.7h0M392 335.2h0M392 318.7h0M391.7 316.3h0M391.8 314.9h0M394 333.9h0M393.8 331h0M394 328.9h0M393.8 325.8h0M394.1 321h0M395 346.5h0M395.2 343.7h0M395.7 338.2h0M395.9 307.5h0M396.1 304.8h0M398 337.7h0M397.7 310.9h0M398.9 352.1h0M399 350.4h0M398.8 348.2h0M398.7 345.4h0M398.6 343.1h0M398.7 340.8h0M398.6 326.6h0M398.7 321.1h0M398.8 318.9h0M400 355.6h0M400.2 353.3h0M399.7 350.4h0M400.8 347.5h0M401.1 344.9h0M400.9 342.8h0M400.7 339.7h0M400.7 335.4h0M400.9 333.1h0M401 330h0M401.2 328.3h0M401 326.4h0M400.8 323.8h0M402 354.8h0M401.9 352.2h0M401.7 349.8h0M401.7 337.5h0M402.9 344.5h0M403.1 343.2h0M402.7 340.1h0M402.7 338.3h0M402.9 335.3h0M402.7 333.1h0M402.7 327.9h0M403.7 342.5h0M404.7 354.6h0M404.9 352.2h0M405.1 350.3h0M405 348.2h0M405.2 344.9h0M404.8 342.6h0M404.8 340.5h0M405.1 333.6h0M404.6 331.5h0M404.8 328.4h0M406 355.1h0M405.6 352.6h0M405.8 350.6h0M405.7 348h0M405.8 333.3h0M405.9 330.7h0M405.8 319.7h0M406.9 312.7h0M407.7 356.6h0M407.7 354.5h0M407.7 352.5h0M407.8 349.4h0M407.8 347.3h0M409.2 356.4h0M408.7 354h0M409.2 352h0M409.1 349.7h0M409.7 355.7h0M410.1 353.8h0M410.2 351.5h0M410.1 349.1h0M409.7 332.4h0M410 329.6h0M411 345.1h0M411.1 342.9h0M410.9 340.5h0M411 338.2h0M410.7 336.7h0M410.8 324.5h0M411.2 321.7h0M411.2 319.2h0M410.9 317h0M410.9 315.4h0M410.6 312.4h0M413.7 331.1h0M413.8 328.2h0M414.9 355.6h0M414.8 352.9h0M414.7 350.7h0M414.6 348.8h0M414.9 345.6h0M414.8 343.7h0M414.9 340.7h0M415.6 346.9h0M415.7 344.2h0M416 337.4h0M416.2 335.2h0M416.7 352.1h0M416.7 349.3h0M416.9 347.3h0M416.7 344.3h0M417.1 342.8h0M416.8 340h0M416.6 330.4h0M416.9 328.8h0M416.8 313.7h0M416.9 311.3h0M416.9 309.5h0M416.9 307.2h0M417 304.5h0M417.1 301.7h0M416.7 300h0M416.7 297.5h0M417 294.6h0M416.8 292.6h0M417.1 290.6h0M418.2 358h0M418 355.4h0M417.6 352.6h0M418.2 350.3h0M417.8 348.1h0M418.1 346.1h0M417.6 343h0M418.1 341.3h0M418.2 338.2h0M417.8 336.1h0M418.2 334h0M417.7 331.1h0M418 329.3h0M417.7 324.1h0M420.1 351.2h0M419.7 348.8h0M420.8 351h0M420.9 347.8h0M420.9 346.1h0M420.7 335.9h0M420.7 334.1h0M421.1 331.7h0M420.7 329.6h0M423.1 352.7h0M423 350.7h0M422.8 348.5h0M423.1 345.6h0M422.8 343.8h0M422.8 340.3h0M422.7 333.5h0M422.9 331.8h0M424.1 356.7h0M424 345.1h0M423.7 328.5h0M423.8 326.4h0M423.9 324.3h0M423.9 322.2h0M423.8 318.8h0M425 355h0M424.8 352.3h0M424.7 349.6h0M424.6 348h0M424.8 345h0M425 343.2h0M425 340.6h0M424.8 330.6h0M426.1 323.8h0M426.2 321.2h0M427 333h0M426.8 330.6h0M426.9 327.6h0M427.8 344.3h0M427.9 342.2h0M428 339.2h0M427.9 336.7h0M427.7 334.7h0M428.2 332h0M428 330.2h0M428.1 327.5h0M427.9 325.4h0M428 322.7h0M427.9 313.4h0M427.7 311.1h0M427.7 308.6h0M430 355.4h0M429.9 348h0M429.8 346.4h0M430 342.9h0M430 341.6h0M430.1 331.6h0M431 338.8h0M430.7 336.4h0M430.8 334h0M430.6 324.2h0M431 321.4h0M431 316.7h0M432 342.7h0M431.8 340.3h0M432 337.7h0M431.8 336.3h0M431.7 333.8h0M432 304.9h0M433 346.8h0M432.7 344.5h0M433.8 339.7h0M433.9 337.1h0M433.6 335h0M433.7 332.2h0M433.9 321.3h0M434 318.8h0M433.8 316.2h0M433.9 314.1h0M435 348.8h0M435 346.6h0M434.7 344.7h0M435.1 342.1h0M434.8 339.7h0M434.7 337.8h0M435 334.8h0M435 328h0M434.9 308.4h0M434.7 306.7h0M435.9 310.4h0M435.8 309h0M435.8 306.3h0M435.6 303.7h0M437.8 353.3h0M437.9 351h0M437.7 348.6h0M438 346.5h0M437.9 343.5h0M438.1 307.9h0M439.2 343.2h0M438.9 341h0M439 338.3h0M439 310.2h0M441 352.8h0M441 342.9h0M440.7 340.6h0M441 338.9h0M440.9 336.2h0M442 336.4h0M441.9 333.6h0M442.2 330.8h0M442 329h0M441.7 326.6h0M442.1 323.4h0M443.1 344.6h0M443.7 352.6h0M444.2 333.7h0M443.6 331.1h0M443.6 328.4h0M443.6 326.3h0M444.6 347.7h0M444.9 316.9h0M445 314.7h0M444.8 311.3h0M446 332.7h0M446.9 327.7h0M446.8 325.6h0M446.8 323.1h0M447.2 302.3h0M446.9 300.2h0M447.8 339.4h0M448.8 344.4h0M448.7 342.5h0M448.9 339.4h0M448.8 337.1h0M448.8 335.6h0M448.7 332.9h0M449 330.6h0M449.7 352.7h0M449.9 349.8h0M450.1 348h0M449.9 345.5h0M451.1 341.1h0M451.2 338.9h0M451.9 346.4h0M451.7 341.3h0M452.1 339.4h0M451.8 337.2h0M451.7 334.3h0M451.9 331.8h0M451.8 330.2h0M451.7 327h0M451.9 325.5h0M453.1 325.6h0M454.1 340.8h0M454.9 302.6h0M454.7 300.7h0M455 298.9h0M456.9 355.3h0M456.8 352.9h0M457.2 350.4h0M457 331.2h0M456.9 291h0M458.1 331.9h0M457.7 328.6h0M458.2 326.4h0M457.9 324.7h0M458 321.6h0M458.1 312.9h0M458.2 310.4h0M457.6 307.8h0M457.9 305.3h0M459 355.2h0M458.9 352.8h0M458.8 350.3h0M459.1 347.7h0M458.7 346.3h0M458.8 343.9h0M458.7 331h0M458.8 329.7h0M460.1 341.3h0M459.7 338.9h0M459.8 335.8h0M460.2 334.3h0M460 331.7h0M460 312h0M459.9 298.7h0M459.7 295.8h0M459.8 293.4h0M460 291.2h0M460.8 300.2h0" stroke="#436EEE" stroke-width="5.4" stroke-linecap="square" fill="none"/>
<path d="M394 260.9h0M416.8 237h0M416.8 240h0M416.8 272.5h0M435.8 271.4h0M435.8 274.2h0M460.1 276.1h0M394.3 290.3h0M417.4 273.2h0M436.4 273.2h0M445.9 298.5h0M461 276.3h0M461 284.3h0M461 292.2h0M406.3 308h0M428.5 312h0M436.4 308h0" stroke="#3562EC" stroke-width="6.3" stroke-linecap="square" fill="none"/>
<path d="M462.6 508L462.8 348.7L463.8 348.7L463.8 351.5L464.8 351.5L464.8 347L465.8 347L465.8 353.7L466.8 353.7L466.8 356.2L467.8 356.2L467.8 349.3L468.8 349.3L468.8 352.1L469.8 352.1L469.8 352.5L470.8 352.5L470.8 352.3L471.8 352.3L471.8 352L472.8 352L472.8 347L473.8 347L473.8 349.8L474.8 349.8L474.8 345.3L475.8 345.3L475.8 349.3L476.8 349.3L476.8 347.1L477.8 347.1L477.8 348L478.8 348L478.8 351.1L479.8 351.1L479.8 344.9L480.8 344.9L480.8 348.1L481.8 348.1L481.8 347.5L482.8 347.5L482.8 345.7L483.8 345.7L483.8 353L484.8 353L484.8 348.5L485.8 348.5L485.8 349L486.8 349L486.8 349.6L487.8 349.6L487.8 355.2L488.8 355.2L488.8 354.4L489.8 354.4L489.8 350.9L490.8 350.9L490.8 352.2L491.8 352.2L491.8 350.9L492.8 350.9L492.8 352L493.8 352L493.8 347.1L494.8 347.1L494.8 348.6L495.8 348.6L495.8 353.9L496.8 353.9L496.8 347.4L497.8 347.4L497.8 350L498.8 350L498.8 348.5L499.8 348.5L499.8 347.3L500.8 347.3L500.8 348.9L501.8 348.9L501.8 349.8L502.8 349.8L502.8 348.9L503.8 348.9L503.8 351L504.8 351L504.8 346.8L505.8 346.8L505.8 345.9L506.8 345.9L506.8 347.8L507.8 347.8L507.8 350.5L508.8 350.5L508.8 347.6L509.8 347.6L509.8 342.9L510.8 342.9L510.8 346.8L511.8 346.8L511.8 351.6L512.8 351.6L512.8 346L513.8 346L513.8 350.6L514.8 350.6L514.8 349L515.8 349L515.8 352.3L516.8 352.3L516.8 355.2L517.8 355.2L517.8 351.1L518.8 351.1L518.8 349.5L519.8 349.5L519.8 351.8L520.8 351.8L520.8 356.4L521.8 356.4L521.8 347.6L522.8 347.6L522.8 349.9L523.8 349.9L523.8 348.7L524.8 348.7L524.8 350.6L525.8 350.6L525.8 353L526.8 353L526.8 350.6L527.8 350.6L527.8 350.5L528.8 350.5L528.8 346.8L529.8 346.8L529.8 349.9L530.8 349.9L530.8 352.1L531.8 352.1L531.8 348.7L532.8 348.7L532.8 346.1L533.7 346.1L533.7 508Z" fill="#EEAD0E"/>
<path d="M465.6 356.2h0M465.4 351h0M465.4 348.9h0M465.4 329.8h0M465.1 327.9h0M465.2 325h0M466.5 356.5h0M466.5 349.6h0M467.5 344.5h0M467.1 341.8h0M468.5 354.3h0M468.1 351.9h0M468.5 349.8h0M468.5 347.1h0M469.5 357.6h0M469.2 355.2h0M469.4 352.7h0M469.3 350.3h0M469.1 347.6h0M470.4 356.2h0M470.2 353.8h0M470.1 351.8h0M470.4 349.3h0M470.4 347h0M470.2 344.8h0M470.4 341.9h0M471.4 335.9h0M471.4 333.3h0M471.4 331.8h0M471.2 329.5h0M471.6 326.4h0M473.2 341.6h0M473.5 338.9h0M473.2 334h0M473.3 331.8h0M474 352.6h0M474.6 349.3h0M474.5 347.9h0M474.3 344.6h0M474.3 342.1h0M474.6 339.7h0M474.5 337.7h0M474.1 335.4h0M474.3 333.3h0M475 346.3h0M475.3 343.7h0M475 341.5h0M476.6 350.8h0M478.5 352.3h0M478.2 349.2h0M478.3 346.7h0M478.1 333.3h0M479.3 320.8h0M479.3 319.4h0M479.2 316.8h0M479.5 314.6h0M481.2 352.8h0M481.3 349.7h0M481.4 347.6h0M481.1 345.9h0M481.5 342.9h0M482.4 353.6h0M482.2 350.6h0M482.2 341h0M482.4 339h0M482.3 336.8h0M483.5 344.9h0M483.2 342.8h0M483.4 340.2h0M483.4 337.2h0M484.3 354.6h0M485.3 353.7h0M485.4 346.4h0M485 343.5h0M485.1 341.6h0M485.2 338.7h0M485.1 337.1h0M485.4 334.8h0M485.5 332.6h0M485.4 329.7h0M487.1 331.6h0M487.1 329.5h0M487.4 326.5h0M488.5 357.8h0M488 355.1h0M488.4 352.2h0M488.2 350.2h0M488.4 340.6h0M489.2 356.5h0M489.1 354.4h0M489.4 352h0M489.3 350.3h0M489.5 347.3h0M489.2 345.3h0M489.4 343.4h0M489.5 340.2h0M490.5 356.7h0M490 354.2h0M490.5 352h0M491 357h0M492.4 335.4h0M492 333.3h0M492.3 331.2h0M492.2 328.7h0M494 317.9h0M494.1 315.9h0M494.5 312.7h0M494.6 310.4h0M494.5 307.8h0M494.6 306h0M494.3 303.5h0M495.5 346.1h0M495.4 342.7h0M495.2 341.3h0M495.2 331.8h0M496.2 354.1h0M496.6 347.2h0M496.1 345.1h0M497.2 348.2h0M498.4 353.1h0M498 350.4h0M498.3 348.4h0M498.2 346.2h0M498.1 343.6h0M498.4 341.1h0M501.5 331.3h0M502.4 323.6h0M503.5 352.7h0M503.3 350.6h0M503.3 341.4h0M503.1 339.1h0M503.3 336.5h0M504.5 341.2h0M504.4 338.8h0M505.4 353.6h0M506.3 347.6h0M510.2 346.7h0M510.3 345h0M510.2 332.8h0M510.2 331h0M510.5 328.5h0M510.2 325.8h0M510.1 323.3h0M510.1 321.3h0M511.5 348.7h0M511.1 346.6h0M512.5 353h0M512.4 350.7h0M512.5 348.2h0M512.4 340.8h0M514.1 354.9h0M514.2 347.7h0M514.3 339.9h0M514.1 338.3h0M514.1 335.8h0M514.3 332.6h0M514.2 331.2h0M514.3 328.5h0M515.4 324.8h0M515.4 322.8h0M515.4 320.1h0M515.2 317.1h0M518.5 356.7h0M518.5 354.2h0M518.6 352.7h0M518.2 349.6h0M518.4 347.2h0M518.2 343.4h0M520.3 356.2h0M520 349.5h0M520.5 340h0M522.1 344.9h0M522.2 342.7h0M522.5 339.4h0M522 337.3h0M523.1 354.3h0M523.5 344.2h0M523.4 342.5h0M523 330.4h0M523.4 328.1h0M524.5 355.6h0M524 353.4h0M524.2 351h0M524.6 348.1h0M524 344h0M524.5 341.9h0M524.5 338.7h0M525.5 355.5h0M526.5 355.1h0M527.5 352h0M527.2 349.9h0M527.6 347.6h0M527.5 345h0M527.3 329h0M527.1 319.4h0M528.4 323.3h0M529.3 343.8h0M529.3 342.4h0M529.2 339.1h0M529.3 337.8h0M530.6 323.4h0M530.1 321.1h0M531.6 346.8h0" stroke="#EEAD0E" stroke-width="5.4" stroke-linecap="square" fill="none"/>
<path d="M469.6 202.2h0M469.6 239.3h0M469.6 248.2h0M469.6 264h0M469.6 267.8h0M513.7 276.7h0M490.3 292.2h0M488.7 296.9h0M487.4 300.9h0M491.1 309.6h0M495 313.1h0M499 315.6h0M501.4 317.5h0M469.7 269.2h0M469.7 283.5h0M469.7 286.6h0M469.7 295.3h0M469.7 300.9h0M475.2 320.7h0M475.2 325.4h0M514.1 277.1h0M523.6 286.6h0M514.8 306.1h0M530.7 304.1h0M530.7 311.2h0M488.7 309.6h0M493.5 312.8h0M499.8 315.9h0M509.3 319.1h0" stroke="#EBA406" stroke-width="6.3" stroke-linecap="square" fill="none"/>
<path d="M533.3 508L533.5 354.4L534.5 354.4L534.5 349.2L535.5 349.2L535.5 356.3L536.5 356.3L536.5 352.2L537.5 352.2L537.5 351.9L538.5 351.9L538.5 353L539.5 353L539.5 348.2L540.5 348.2L540.5 343.4L541.5 343.4L541.5 346.6L542.5 346.6L542.5 348.3L543.5 348.3L543.5 349.4L544.5 349.4L544.5 352.3L545.5 352.3L545.5 345.8L546.5 345.8L546.5 346.4L547.5 346.4L547.5 351L548.5 351L548.5 345.9L549.5 345.9L549.5 350.1L550.5 350.1L550.5 346.7L551.5 346.7L551.5 344.2L552.5 344.2L552.5 350.8L553.5 350.8L553.5 348.8L554.5 348.8L554.5 350.8L555.5 350.8L555.5 345.4L556.5 345.4L556.5 353L557.5 353L557.5 346.8L558.5 346.8L558.5 350.6L559.5 350.6L559.5 352.1L560.5 352.1L560.5 351L561.5 351L561.5 345.2L562.5 345.2L562.5 349.8L563.5 349.8L563.5 347.8L564.5 347.8L564.5 344.9L565.5 344.9L565.5 351.3L566.5 351.3L566.5 352.6L567.5 352.6L567.5 344.6L568.5 344.6L568.5 345.1L569.5 345.1L569.5 349.6L570.5 349.6L570.5 351.5L571.5 351.5L571.5 354.7L572.5 354.7L572.5 353.9L573.5 353.9L573.5 350.9L574.5 350.9L574.5 354.9L575.5 354.9L575.5 353.8L576.5 353.8L576.5 351.4L577.5 351.4L577.5 353.6L578.5 353.6L578.5 351.4L579.5 351.4L579.5 350.1L580.5 350.1L580.5 354.5L581.5 354.5L581.5 351.4L582.5 351.4L582.5 352.4L583.5 352.4L583.5 349.8L584.5 349.8L584.5 353.6L585.5 353.6L585.5 350.8L586.5 350.8L586.5 348L587.5 348L587.5 354.4L588.5 354.4L588.5 353.2L589.5 353.2L589.5 354.4L590.5 354.4L590.5 349.6L591.5 349.6L591.5 354.6L592.5 354.6L592.5 350.7L593.5 350.7L593.5 349.3L594.5 349.3L594.5 345.1L595.5 345.1L595.5 345.2L596.5 345.2L596.5 350.3L597.5 350.3L597.5 346.7L598.5 346.7L598.5 348.1L599.5 348.1L599.5 349L600.2 349L600.2 508Z" fill="#436EEE"/>
<path d="M535.7 339.7h0M535.7 337h0M536.3 326.1h0M536.3 323.4h0M535.8 321.4h0M536 318.2h0M537 350.3h0M537.1 348.6h0M537.1 339.2h0M537.3 335.8h0M536.8 334.1h0M537 331.2h0M538.3 347.4h0M537.8 345.1h0M538.8 353.2h0M538.8 351.2h0M538.9 347.9h0M539 331.8h0M539.1 329.4h0M538.8 326.9h0M539 324.9h0M538.8 322.6h0M539.2 320.4h0M538.8 317.7h0M539 315.2h0M540.1 347.8h0M541.1 340.2h0M540.8 337.9h0M541 336.2h0M541 323.7h0M541.9 347.1h0M542 345.1h0M542.1 342.4h0M542.3 333.3h0M542.1 331.1h0M541.8 329.2h0M543.2 353.2h0M543.3 343.6h0M542.8 340.2h0M542.8 338.2h0M543.2 335.9h0M543.1 333.6h0M543 331h0M543.2 329.5h0M543.2 326.4h0M544 351h0M544 335.6h0M544 334.3h0M544 331h0M544.2 329.6h0M543.8 326.6h0M544.2 324.6h0M543.8 322.2h0M544.1 319h0M543.9 317.1h0M544.2 314.9h0M544 312.6h0M544.1 310.2h0M547.3 352.5h0M547.2 350.9h0M546.9 348.3h0M547 336.9h0M547.1 334.3h0M546.8 331.7h0M546.8 329.5h0M547.1 327.5h0M546.8 324.1h0M547.2 322.5h0M546.9 319.9h0M546.7 317.9h0M547.8 345.8h0M547.8 343.2h0M547.7 329.6h0M549.9 349.7h0M549.7 347.4h0M549.8 345h0M549.7 329.2h0M550 326.9h0M549.9 324.8h0M550 321.9h0M550 319.6h0M550.1 317.1h0M550.8 329.4h0M551 326.1h0M551 324.6h0M550.7 321.4h0M553.7 350h0M554.2 348.2h0M554.2 345.9h0M553.9 343.2h0M555 352.4h0M555.3 351h0M556.1 353.6h0M556.2 343.8h0M555.9 340.8h0M556.2 338.9h0M556.2 336.5h0M555.9 334.2h0M556.1 331.3h0M556.9 345.8h0M558.2 353h0M558.1 351h0M557.8 348.6h0M558.2 346h0M559.3 346.8h0M562.1 353h0M562.8 353h0M563.2 350.8h0M563.3 348.7h0M562.8 345.7h0M563.2 343h0M562.9 341.4h0M562.8 338.1h0M562.9 336.2h0M563 324.7h0M563.3 321.6h0M562.8 319.4h0M562.8 317.9h0M563.2 315.5h0M563.2 312.9h0M564 326.2h0M564.7 353.1h0M565.1 345.3h0M564.9 343.7h0M564.9 341.3h0M564.9 338.2h0M565.2 335.7h0M564.9 334.1h0M565 331.8h0M566.2 319.9h0M566.1 317.4h0M565.9 314.7h0M566.1 313.3h0M567.2 351.1h0M566.9 349h0M567.1 341h0M567.2 339.4h0M568.9 348.9h0M569.1 344.3h0M569 342h0M569.3 339.4h0M569.2 336.8h0M568.9 333.8h0M569.2 329.3h0M569.1 327.4h0M568.9 324.8h0M569.2 322.6h0M571 348.9h0M571.1 346.9h0M571.9 347.8h0M571.7 338.2h0M572 335.5h0M575.1 356.6h0M574.8 354.6h0M574.9 347.7h0M574.9 331.1h0M574.8 328.6h0M574.9 326.4h0M575 324.5h0M574.9 321.8h0M577.3 338.6h0M576.8 319.9h0M578 357.8h0M578.1 341.1h0M578 319.9h0M579.2 329.4h0M579.2 327.4h0M579.8 355.4h0M580.2 343.6h0M580.3 329.7h0M580.1 327.3h0M581.1 355.4h0M582.2 355.8h0M581.9 348.2h0M582.2 346.6h0M582.2 343.3h0M582.2 341h0M582.2 338.6h0M582.1 320.3h0M582 317.5h0M582.1 315.1h0M581.7 313.3h0M582.9 353.6h0M582.8 341.7h0M583.1 338.3h0M583.3 336.8h0M583.3 314.7h0M582.9 312.8h0M584.2 353.3h0M584.2 326.6h0M583.8 312.1h0M584 310.2h0M585.2 352.8h0M584.8 349.6h0M584.8 347.8h0M585 333.9h0M585.1 330.8h0M585.3 328.7h0M585 326.1h0M585.2 324.7h0M585.9 356.5h0M586.1 350.2h0M585.7 347.2h0M587 357.1h0M587.1 354.9h0M586.7 352.2h0M587.1 350.2h0M586.8 345.4h0M586.9 342.5h0M587.1 339.8h0M587 320.8h0M588.3 346.7h0M587.9 339.8h0M587.9 333.4h0M589.3 339.4h0M589.2 337.3h0M589.1 334.6h0M589.2 331.9h0M588.8 330.6h0M589 328h0M589.1 310.7h0M589 309.2h0M589 306.7h0M589.3 304.4h0M588.8 301.8h0M589 299.4h0M588.9 297.3h0M590 322.5h0M590.1 296.8h0M590.1 293.7h0M591.9 355.3h0M591.9 353h0M592 331.1h0M592 328.7h0M592.2 327h0M592 324.7h0M593.2 348h0M595.1 308.7h0M596 334.5h0M596.3 332.5h0M595.8 329.3h0M596.2 306.3h0M596.1 303.8h0M597.1 353.1h0M597.2 308h0M597 305.3h0M597.3 298.8h0M597.1 295.5h0M598.2 343.2h0M598.3 340.8h0" stroke="#436EEE" stroke-width="5.4" stroke-linecap="square" fill="none"/>
<path d="M556.4 197.5h0M556.4 206h0M556.4 227.1h0M556.4 237h0M601 255.2h0M578.6 274.6h0M583.4 277.1h0M544.1 304.1h0M544.1 312h0M552.9 303.3h0M556 303.3h0M563.2 297.7h0M552.1 287.4h0M556.8 281.9h0M578.2 274h0M583.7 277.9h0M563.2 317.5h0M539.4 319.9h0M577.4 308.8h0M583 302.5h0" stroke="#3562EC" stroke-width="6.3" stroke-linecap="square" fill="none"/>
<path d="M599.8 508L600 356.7L601 356.7L601 356.8L602 356.8L602 354.2L603 354.2L603 348.3L604 348.3L604 352.3L605 352.3L605 349.3L606 349.3L606 348.2L607 348.2L607 351.3L608 351.3L608 350.9L609 350.9L609 349.2L610 349.2L610 346.9L611 346.9L611 353.4L612 353.4L612 350.2L613 350.2L613 348.1L614 348.1L614 349.5L615 349.5L615 351.5L616 351.5L616 348.1L617 348.1L617 349.7L618 349.7L618 352.1L619 352.1L619 351.2L620 351.2L620 349.9L621 349.9L621 350.9L622 350.9L622 347.7L623 347.7L623 353.2L624 353.2L624 353.1L625 353.1L625 351.7L626 351.7L626 350.4L627 350.4L627 344.8L628 344.8L628 347.4L629 347.4L629 346.7L630 346.7L630 352.6L631 352.6L631 349.7L632 349.7L632 349.8L633 349.8L633 349.1L634 349.1L634 352.4L635 352.4L635 347.8L636 347.8L636 345L637 345L637 352.9L638 352.9L638 347.5L639 347.5L639 352L640 352L640 352.2L641 352.2L641 356.9L642 356.9L642 356.3L643 356.3L643 358.1L644 358.1L644 356L645 356L645 354.3L646 354.3L646 349.7L647 349.7L647 349.7L648 349.7L648 351.2L649 351.2L649 350.7L650 350.7L650 348.7L651 348.7L651 352.4L652 352.4L652 354.2L653 354.2L653 350.6L654 350.6L654 352L655 352L655 349.2L656 349.2L656 349.9L657 349.9L657 352.9L658 352.9L658 349.2L659 349.2L659 354.9L660 354.9L660 355.3L661 355.3L661 351.1L661.8 351.1L661.8 508Z" fill="#EEAD0E"/>
<path d="M602.4 357.1h0M602.3 352h0M602.7 321.1h0M602.6 293.3h0M602.8 290.6h0M603.4 353.2h0M603.6 350.9h0M603.2 349.1h0M603.5 346.2h0M603.7 343.8h0M603.6 341.8h0M603.6 315.4h0M603.3 313.5h0M603.3 311.5h0M604.3 323.9h0M604.3 322.6h0M604.7 314.8h0M605.6 347.8h0M605.5 345.2h0M605.4 342.8h0M605.4 339.8h0M605.3 305.1h0M606.6 339.2h0M607.4 348.7h0M607.8 346.1h0M607.3 344.3h0M607.4 341.8h0M607.5 329.4h0M607.3 320.7h0M607.4 318.1h0M607.8 313.8h0M607.7 298.6h0M607.3 296.9h0M607.4 294.3h0M608.5 337.6h0M608.3 330.5h0M608.3 327.3h0M608.2 324.8h0M608.3 323.3h0M609.7 354.1h0M609.5 351.4h0M609.3 349.8h0M609.3 337.6h0M609.7 326.1h0M609.8 322.8h0M609.2 320.3h0M609.6 318.9h0M609.7 316.4h0M609.3 313.7h0M609.3 311.8h0M609.7 308.6h0M609.4 306.3h0M609.8 304.4h0M609.2 301.3h0M609.8 299.5h0M609.6 297.4h0M609.7 295.1h0M609.5 292.4h0M609.5 290.4h0M610.4 306.3h0M610.8 304.5h0M610.5 301.9h0M610.7 300h0M611.6 347.7h0M611.2 344.7h0M611.7 294.7h0M611.7 292.3h0M612.4 339.8h0M612.7 335.7h0M612.2 333.4h0M612.4 331h0M612.7 328.7h0M612.2 326.1h0M612.7 323.3h0M612.2 321.9h0M612.4 309.4h0M613.7 325.8h0M613.6 323.9h0M613.5 300h0M613.6 297.5h0M614.2 352.7h0M614.6 317.2h0M614.3 314.6h0M615.7 354.7h0M615.4 352.7h0M616.3 354.7h0M616.3 352.3h0M616.3 342.4h0M616.7 340.1h0M616.5 337.7h0M617.2 349.6h0M618.4 354.4h0M618.4 352.2h0M618.8 350.1h0M618.6 347.5h0M619.3 354.8h0M619.5 352.5h0M619.5 345.1h0M619.3 342.7h0M619.6 340.5h0M619.3 337.8h0M619.6 335.2h0M619.2 331h0M619.3 328.8h0M619.4 325.7h0M619.3 323.9h0M619.2 320.7h0M620.2 354.6h0M620.8 345.1h0M620.7 318.7h0M620.6 315.6h0M620.6 292.1h0M620.5 290.1h0M623.8 339h0M623.5 334.6h0M623.7 331.7h0M623.3 325.1h0M623.4 322.1h0M623.3 320.8h0M623.7 318.3h0M623.3 315.3h0M623.7 313.4h0M624.2 339.6h0M624.6 327.6h0M624.6 325.1h0M625.4 333.8h0M625.6 331.6h0M626.7 343.6h0M626.5 341.3h0M628.3 350.4h0M628.7 348.2h0M628.3 343.9h0M628.6 341.4h0M629.6 353.2h0M629.8 350.7h0M629.7 348.8h0M629.8 341.2h0M629.2 338.4h0M629.5 333.6h0M629.5 331.6h0M629.4 329.2h0M629.4 324.8h0M629.5 321.9h0M630.7 353.2h0M630.3 343.5h0M630.6 329.7h0M630.7 326.6h0M630.6 325.3h0M630.5 322.8h0M630.4 319.9h0M630.3 317.2h0M630.3 314.7h0M632.5 338.1h0M632.4 336.7h0M633.5 334h0M633.7 331.3h0M634.6 326.4h0M635.6 317.1h0M636.6 346.7h0M636.7 344.4h0M636.7 335.5h0M636.4 333h0M636.3 331.1h0M636.6 328h0M636.7 326.2h0M636.2 306.9h0M636.6 304.7h0M637.2 344.1h0M637.3 341.7h0M637.6 339.2h0M639.4 343.7h0M639.2 340.7h0M640.7 321h0M641.4 357.7h0M641.2 354.7h0M641.5 352.9h0M641.5 350.8h0M641.3 347.4h0M641.2 328.4h0M642.3 358.1h0M642.6 355.9h0M642.5 353.6h0M642.2 332.5h0M642.7 325.6h0M642.6 322.3h0M642.6 320.1h0M642.2 318.2h0M642.5 294.7h0M642.4 292.1h0M643.5 344.2h0M643.5 332.3h0M643.4 308.7h0M643.8 299.4h0M643.5 297h0M643.5 294h0M643.8 291.7h0M644.7 340.9h0M644.7 339.2h0M644.7 317.9h0M644.8 315.1h0M644.3 313.2h0M644.6 310.2h0M644.8 308.2h0M644.5 305.9h0M645.8 352.4h0M645.4 350.5h0M645.5 320.3h0M645.6 317.9h0M645.6 310.7h0M646.5 355.1h0M646.6 323.8h0M647.5 317.1h0M647.5 315.1h0M648.8 347.7h0M648.2 333.1h0M648.7 330.8h0M648.5 328.2h0M648.5 326.3h0M648.7 323.6h0M648.3 321.5h0M648.6 318.7h0M648.3 317.2h0M648.2 314.8h0M648.5 312.5h0M648.5 309.1h0M648.5 307.2h0M648.4 305.3h0M648.8 302.9h0M648.3 300.1h0M649.6 356.9h0M649.5 353.6h0M649.4 339.3h0M649.5 327.6h0M649.7 325.5h0M649.2 323.6h0M649.7 321.1h0M649.4 318.1h0M649.5 316.2h0M649.6 314.1h0M649.4 306.6h0M649.3 304.8h0M649.7 301.5h0M649.3 300h0M650.8 356.5h0M650.3 354.1h0M652.3 354.8h0M654.5 354.7h0M654.2 339.5h0M654.4 337.8h0M654.4 335.3h0M654.2 333.3h0M654.5 330.9h0M654.4 328.1h0M655.4 345.6h0M655.4 342.8h0M655.5 340.3h0M655.5 337.7h0M656.2 344h0M656.8 341.4h0M656.2 339.4h0M656.5 336.2h0M656.7 333.6h0M656.6 331.4h0M656.3 310.7h0M656.6 307.7h0M656.8 305.2h0M656.7 303.3h0M657.6 356.5h0M657.8 306.8h0M657.4 303.8h0M657.6 302.1h0M657.4 299.8h0M657.8 296.7h0M657.6 294.4h0M658.5 356.9h0M658.6 354h0M658.8 351.7h0M658.5 342.8h0M658.3 316.4h0M658.3 297.5h0M658.3 295.4h0M658.4 293.3h0M658.5 289.8h0M659.4 347.5h0M659.4 345.9h0M659.5 333.2h0M659.7 331.9h0M659.5 328.7h0M659.3 326.5h0M659.6 298.2h0M659.6 295.5h0M659.4 294h0M659.6 290.8h0" stroke="#EEAD0E" stroke-width="5.4" stroke-linecap="square" fill="none"/>
<path d="M602.4 247.6h0M604.1 267.4h0M641.6 281.9h0M636.8 288.2h0M604.3 270h0M659 291.4h0" stroke="#EBA406" stroke-width="6.3" stroke-linecap="square" fill="none"/>
<path d="M661.4 508L661.6 345.8L662.6 345.8L662.6 345.7L663.6 345.7L663.6 348.4L664.6 348.4L664.6 348.9L665.6 348.9L665.6 347.6L666.6 347.6L666.6 350.8L667.6 350.8L667.6 354.9L668.6 354.9L668.6 353.7L669.6 353.7L669.6 354.1L670.6 354.1L670.6 347.9L671.6 347.9L671.6 354L672.6 354L672.6 353.5L673.6 353.5L673.6 348.7L674.6 348.7L674.6 349.6L675.6 349.6L675.6 348.1L676.6 348.1L676.6 348.6L677.6 348.6L677.6 345.2L678.6 345.2L678.6 350.4L679.6 350.4L679.6 344.5L680.6 344.5L680.6 345.4L681.6 345.4L681.6 351.7L682.6 351.7L682.6 346.3L683.6 346.3L683.6 346.7L684.6 346.7L684.6 350.7L685.6 350.7L685.6 353.9L686.6 353.9L686.6 347.6L687.6 347.6L687.6 351.2L688.6 351.2L688.6 355.4L689.6 355.4L689.6 352.2L690.6 352.2L690.6 356.9L691.6 356.9L691.6 355.4L692.6 355.4L692.6 355.4L693.6 355.4L693.6 355.5L694.6 355.5L694.6 347.3L695.6 347.3L695.6 350.8L696.6 350.8L696.6 348.9L697.6 348.9L697.6 351.6L698.6 351.6L698.6 350L699.6 350L699.6 347.5L700.6 347.5L700.6 350L701.6 350L701.6 351.2L702.6 351.2L702.6 348.9L703.6 348.9L703.6 348.1L704.6 348.1L704.6 345.5L705.6 345.5L705.6 351.2L706.6 351.2L706.6 344.6L707.6 344.6L707.6 347.4L708.6 347.4L708.6 347.2L709.6 347.2L709.6 347L710.6 347L710.6 343.5L711.6 343.5L711.6 349.4L712.6 349.4L712.6 354.3L713.6 354.3L713.6 348.7L714.6 348.7L714.6 352.7L715.6 352.7L715.6 357.6L716.6 357.6L716.6 353L717.6 353L717.6 350.8L718.6 350.8L719.1 508Z" fill="#436EEE"/>
<path d="M664.1 353.4h0M663.9 351.6h0M664.3 348.8h0M664.2 346.8h0M664.4 334.5h0M664.1 332.2h0M664.4 308.8h0M664 306.4h0M664 304h0M664 301.1h0M664.2 299.3h0M665.3 352.5h0M665.3 349.8h0M665.3 348.4h0M665 343.2h0M665.2 340.9h0M665.4 319.4h0M666.3 346.7h0M666.2 344.4h0M666.3 342h0M666.1 339.7h0M665.9 315.1h0M665.8 313.1h0M668.4 339h0M668 336.9h0M668.1 334.5h0M668 332.5h0M668.2 329.1h0M667.8 327.2h0M668.8 326.4h0M669.2 324.8h0M668.9 322.1h0M669 319h0M669.1 317.2h0M669.1 314.9h0M668.9 312.4h0M668.9 300.9h0M669.1 298.6h0M669.1 296.3h0M670.3 347.2h0M670.2 345.1h0M670 342.6h0M670.4 335.1h0M671.4 356.4h0M671.3 353.5h0M670.9 351.8h0M671.1 349.1h0M671.1 346.7h0M671.2 344.3h0M670.8 309h0M671.8 303.8h0M673.4 345.2h0M673 342.5h0M673.4 340.2h0M673.1 329.3h0M673.3 326.4h0M673.4 324.4h0M673.2 321.5h0M673.3 319h0M672.9 316.5h0M673.2 305.4h0M673 302.4h0M673.1 299.7h0M674.2 342.9h0M674.3 339.6h0M674 337.4h0M674.4 328.1h0M674.1 309.1h0M674.1 297.2h0M675.1 346.4h0M677.2 352.9h0M677 350.3h0M677 348.4h0M676.8 345.6h0M677.2 343.1h0M677.2 324.9h0M677 322.5h0M677 308.3h0M677.3 306.1h0M677.3 302.9h0M677.1 301.4h0M677 298.5h0M676.9 296.6h0M676.9 293.8h0M677 291.7h0M680.1 349.1h0M680.2 347.4h0M680.3 344.2h0M679.9 341.7h0M679.9 340.2h0M680.1 337.9h0M680.3 335.3h0M680.3 332.7h0M680.2 330h0M681.1 347.1h0M683.1 351.6h0M683.4 348.2h0M683.9 340.2h0M684.2 338h0M684.3 334.8h0M685.3 341h0M685.8 352.8h0M686.2 350.1h0M686.2 348.5h0M686 345.4h0M685.9 343.5h0M688.2 356.3h0M688.1 353.7h0M687.8 351.4h0M688.2 348.6h0M690.3 332.9h0M690 328.3h0M690.1 326.6h0M692.9 351.5h0M693.1 349.7h0M693 347.6h0M693.3 344.6h0M692.8 340.5h0M693.1 337h0M694 346.3h0M694.4 343.7h0M693.9 341.7h0M694 339.3h0M693.9 337.1h0M694.4 334.6h0M696 349.3h0M695.9 346.9h0M696.1 344.1h0M696 341.4h0M696.1 339.8h0M699.9 351.9h0M700.3 348.8h0M701.2 318.7h0M701.3 311.4h0M701.4 308.5h0M701.1 307.1h0M701.3 304.3h0M700.9 302.4h0M701.1 299.2h0M701.2 296.8h0M701.2 294.9h0M700.9 292.9h0M702.2 346.6h0M701.9 337.1h0M701.9 292.6h0M702.3 290.4h0M703.2 351.6h0M702.9 349.1h0M703.1 342.2h0M702.8 340.1h0M703.3 337.1h0M703.1 334.8h0M703 332.4h0M703.3 329.8h0M702.9 328.4h0M704.2 351.5h0M703.8 349.3h0M703.9 347.2h0M704 344.6h0M704.2 341.8h0M704.2 339.6h0M704.3 337.7h0M704.3 335.4h0M704.2 332.4h0M704 330.4h0M703.9 328.2h0M704.2 325.3h0M704.3 323.6h0M704.2 316.1h0M704.3 313.6h0M704.1 311.1h0M704.2 309.5h0M703.8 306.8h0M703.9 304.9h0M704.1 297.7h0M704.2 295h0M704.3 292.5h0M704.1 290.3h0M706.1 344.2h0M706 342.4h0M705.8 339.5h0M705.9 337.5h0M706.4 334.9h0M706.3 297h0M705.9 295.2h0M705.9 292.7h0M707.2 351h0M707.4 349.1h0M706.9 344.4h0M707.4 342.5h0M707.1 339h0M707.4 337h0M707.1 335h0M708.2 351.4h0M707.9 348.5h0M707.9 346.4h0M708 336.9h0M707.9 334.8h0M709.9 350.7h0M710.3 346.5h0M711.2 344.6h0M710.8 342.9h0M711.4 340.7h0M710.8 338.6h0M711.9 352.9h0M712.2 350.5h0M711.8 348.8h0M712.2 345.9h0M712.9 337.8h0M715.1 351.7h0M716.3 358.5h0M716.3 336.7h0M716.2 334h0M716 332.6h0M716.2 329.9h0M716.3 328h0M716.4 325.1h0M717.3 335.7h0M717.3 333.1h0M717.2 331.6h0M716.9 329h0M717.3 326.7h0M717 324.3h0" stroke="#436EEE" stroke-width="5.4" stroke-linecap="square" fill="none"/>
<path d="M673.8 175.8h0M673.8 247.8h0M666.8 277.6h0M666.1 279.5h0M673.2 286.6h0M699.4 285.8h0M715.8 296.9h0M715.8 308h0M701.6 285.8h0M703.2 295.3h0" stroke="#3562EC" stroke-width="6.3" stroke-linecap="square" fill="none"/>
<path d="M718.7 508L718.9 355.2L719.9 355.2L719.9 347.3L720.9 347.3L720.9 352.9L721.9 352.9L721.9 355.2L722.9 355.2L722.9 349.3L723.9 349.3L723.9 353.2L724.9 353.2L724.9 349L725.9 349L725.9 349.2L726.9 349.2L726.9 349.5L727.9 349.5L727.9 348.4L728.9 348.4L728.9 351.1L729.9 351.1L729.9 347.6L730.9 347.6L730.9 355.5L731.9 355.5L731.9 354.1L732.9 354.1L732.9 354.2L733.9 354.2L733.9 348.1L734.9 348.1L734.9 349.2L735.9 349.2L735.9 343.9L736.9 343.9L736.9 344L737.9 344L737.9 351.9L738.9 351.9L738.9 345.5L739.9 345.5L739.9 350L740.9 350L740.9 351.3L741.9 351.3L741.9 346.3L742.9 346.3L742.9 351.5L743.9 351.5L743.9 350.4L744.9 350.4L744.9 351.5L745.9 351.5L745.9 345.5L746.9 345.5L746.9 348.5L747.9 348.5L747.9 352.1L748.9 352.1L748.9 351.5L749.9 351.5L749.9 346.3L750.9 346.3L750.9 344L751.9 344L751.9 344.1L752.9 344.1L752.9 346.2L753.9 346.2L753.9 347.9L754.9 347.9L754.9 351L755.9 351L755.9 353.4L756.9 353.4L756.9 348.7L757.9 348.7L757.9 352.2L758.9 352.2L758.9 351.7L759.9 351.7L759.9 356.3L760.9 356.3L760.9 351.2L761.9 351.2L761.9 354.6L762.9 354.6L762.9 354.6L763.9 354.6L763.9 355.9L764.9 355.9L764.9 355.6L765.9 355.6L765.9 355.6L766.9 355.6L766.9 349.5L767.9 349.5L767.9 352.6L768.9 352.6L768.9 349L769.9 349L769.9 350.4L770.9 350.4L770.9 346.3L771.9 346.3L771.9 352.2L772.9 352.2L773.2 508Z" fill="#EEAD0E"/>
<path d="M721.3 353.5h0M721.7 322.9h0M721.6 320.2h0M721.5 317.3h0M721.4 315.3h0M721.5 308.9h0M721.4 306.2h0M722.4 329.6h0M722.4 326.7h0M722.1 325h0M722.4 322.3h0M723.6 354.9h0M723.5 352.4h0M723.3 341.7h0M723.4 339h0M723.4 331.2h0M723.4 328.9h0M723.2 307.4h0M724.5 326.2h0M724.2 324.7h0M725.4 309.6h0M725.4 308h0M727.2 355.8h0M727.7 353.4h0M727.6 350.3h0M727.7 347.8h0M728.3 356h0M728.3 353.1h0M728.6 350.6h0M728.1 349.3h0M728.3 346.8h0M728.5 336.8h0M729.2 355.8h0M729.7 353.9h0M729.5 335.3h0M729.7 332.6h0M730.6 332.7h0M730.6 331h0M730.4 323.3h0M730.5 321.5h0M730.5 318.6h0M732.3 356.3h0M732.1 354.1h0M732.7 351.3h0M732.2 348.8h0M732.1 346.8h0M732.6 344h0M732.4 322.4h0M732.5 320.5h0M732.2 318.5h0M732.2 315.5h0M732.3 313.8h0M733.5 355.3h0M733.4 352.8h0M733.6 350.3h0M735.3 353.9h0M735.2 350.6h0M735.1 348.2h0M735.6 333.9h0M736.6 350.3h0M736.2 317.5h0M736.2 314.1h0M748.2 352.4h0M748.1 347.1h0M748.7 345.7h0M748.3 326.7h0M748.3 323.9h0M749.6 351.9h0M749.6 335.2h0M749.4 333.3h0M749.2 331.2h0M749.3 328.5h0M749.7 326.3h0M751.2 333.9h0M751.7 324.3h0M751.3 321.6h0M751.6 319.5h0M751.7 317.5h0M751.6 315.1h0M751.4 312.1h0M752.5 353.2h0M752.2 350.5h0M752.4 336.5h0M752.5 334h0M752.6 331.9h0M752.2 329.6h0M752.4 326.6h0M752.2 324.5h0M752.6 317.8h0M754.3 353.5h0M754.5 350.7h0M754.2 348.4h0M754.5 336.2h0M755.7 338.7h0M755.6 337.2h0M755.7 335.1h0M755.5 332.7h0M758.6 345.8h0M758.3 343.4h0M758.2 342h0M758.3 339.7h0M758.6 336.5h0M758.4 334.9h0M758.1 332h0M759.3 356.1h0M759.5 337.2h0M760.6 357.4h0M760.6 340.9h0M760.3 337.8h0M760.5 335.6h0M760.4 333h0M761.3 357.4h0M761.5 355.1h0M761.3 353h0M761.1 350.4h0M761.6 348.5h0M761.3 346.7h0M761.1 344h0M762.3 350.7h0M763.1 357.7h0M763.2 336.4h0M763.2 333.7h0M763.6 332h0M764.7 355.7h0M765.3 357.5h0M765.7 354.6h0M766.6 345.2h0M766.3 333.5h0M766.5 330.8h0M766.1 329.2h0M766.6 327h0M766.5 324.2h0M767.4 357.5h0M768.2 323.8h0M768.4 320.8h0" stroke="#EEAD0E" stroke-width="5.4" stroke-linecap="square" fill="none"/>
<path d="M721.4 286.6h0M723.8 290.6h0M725.3 310.4h0M732.5 313.6h0M775.2 285.8h0" stroke="#EBA406" stroke-width="6.3" stroke-linecap="square" fill="none"/>
<path d="M772.8 508L773 352.6L774 352.6L774 355.4L775 355.4L775 350.2L776 350.2L776 354.2L777 354.2L777 355.5L778 355.5L778 352.6L779 352.6L779 352.9L780 352.9L780 346.8L781 346.8L781 347.2L782 347.2L782 349.6L783 349.6L783 353.7L784 353.7L784 350.4L785 350.4L785 347.1L786 347.1L786 360.7L787 360.7L787 353.8L788 353.8L788 357L789 357L789 358.5L790 358.5L790 353.2L791 353.2L791 361.5L792 361.5L792 360.7L793 360.7L793 359L794 359L794 354.3L795 354.3L795 354.1L796 354.1L796 359.5L797 359.5L797 357.7L798 357.7L798 357.6L799 357.6L799 350.9L800 350.9L800 348.9L801 348.9L801 352.7L802 352.7L802 350.3L803 350.3L803 349.5L804 349.5L804 354.9L805 354.9L805 353L806 353L806 353.6L807 353.6L807 352.2L808 352.2L808 350.3L809 350.3L809 351.7L810 351.7L810 350.5L811 350.5L811 352.6L812 352.6L812 351.9L813 351.9L813 352.5L814 352.5L814 354.1L815 354.1L815 351.6L816 351.6L816 351.1L817 351.1L817 348.8L818 348.8L818 352.2L819 352.2L819 350.3L820 350.3L820 353.5L821 353.5L821 353L822 353L822 348.9L823 348.9L823 353.2L824 353.2L824 353.8L825 353.8L825 348.9L826 348.9L826.2 508Z" fill="#436EEE"/>
<path d="M775.7 355.4h0M775.3 353.6h0M775.2 351.1h0M775.5 348.8h0M775.8 345.8h0M775.8 327.4h0M776.4 355.1h0M776.6 353.7h0M776.7 339h0M777.5 319.6h0M778.8 333.8h0M778.6 314.8h0M779.5 347.9h0M779.7 346.1h0M779.4 343.3h0M779.2 341.9h0M780.4 350.5h0M780.4 347.8h0M780.5 346.3h0M780.2 338.5h0M780.6 334h0M780.4 331.7h0M780.7 329.6h0M780.4 320.1h0M780.3 317.4h0M780.7 314.7h0M780.7 312.5h0M780.7 310.2h0M781.3 334.1h0M781.2 331.8h0M781.7 329h0M781.4 327.2h0M781.5 324.7h0M782.4 333.2h0M782.5 319.4h0M782.6 317.4h0M784.5 336.3h0M785.3 333.3h0M785.8 330.4h0M785.6 328.5h0M786.3 355h0M786.3 352.2h0M788.3 361.1h0M788.6 359.7h0M789.6 361.3h0M789.3 359.7h0M789.5 356.2h0M789.4 354.5h0M789.4 351.6h0M789.6 349.4h0M789.6 347.2h0M790.5 362.1h0M792.8 355h0M792.2 352.3h0M792.5 349.6h0M792.3 346.9h0M793.2 361.3h0M793.3 358.6h0M794.6 361.8h0M794.6 359.4h0M794.5 356.4h0M794.4 354h0M794.6 351.6h0M794.7 349.6h0M794.7 347.3h0M796.4 356.8h0M798.3 342.1h0M798.5 339.3h0M798.6 336.7h0M799.6 351.7h0M799.8 348.6h0M799.8 347.1h0M799.8 344.6h0M799.5 341.7h0M799.5 339.9h0M799.5 325.7h0M799.5 323.6h0M802.4 357.6h0M803.3 357.2h0M803.5 352.8h0M803.5 350.7h0M803.5 348.5h0M803.4 345.8h0M803.4 324.8h0M803.4 321.8h0M803.3 319h0M803.3 314.9h0M803.8 310.5h0M803.6 307.8h0M804.8 336.1h0M804.6 334h0M805.6 344.2h0M805.7 341.5h0M805.5 320.3h0M805.3 318.2h0M805.3 315.9h0M805.7 312.5h0M805.4 310.5h0M806.6 358.6h0M806.3 356.4h0M806.6 311.3h0M806.5 307.9h0M806.7 305.6h0M806.5 303.1h0M807.2 351.7h0M807.3 348.4h0M807.8 346.3h0M807.6 332.9h0M808.6 344.6h0M809.7 356.1h0M809.6 353.5h0M809.7 351.3h0M809.4 349.7h0M809.3 347h0M809.8 344.5h0M809.5 342.1h0M809.8 323.8h0M809.4 321.4h0M809.3 318.9h0M809.4 316.3h0M809.8 313.2h0M810.2 334.9h0M810.7 332.2h0M810.2 330h0M810.7 327.7h0M810.8 325.5h0M810.4 323.2h0M810.3 320.6h0M810.8 305.6h0M811.7 345.6h0M811.6 343.7h0M811.4 341.1h0M811.5 338.5h0M811.5 336.1h0M811.7 326.9h0M812.3 356.9h0M812.5 349.7h0M812.5 348.1h0M812.3 345.4h0M812.3 343.2h0M812.4 340.8h0M812.6 338h0M812.6 326.7h0M812.4 322h0M812.4 318.7h0M812.3 316.5h0M813.4 344.3h0M813.6 342.2h0M813.5 339.5h0M813.2 306.3h0M813.7 304.9h0M814.5 348.6h0M814.7 346.1h0M814.5 343.7h0M814.3 342.1h0M814.2 328h0M814.5 324.8h0M814.8 322.5h0M815.4 355.1h0M815.7 350.6h0M815.6 347.9h0M816.5 356.3h0M816.7 339.7h0M816.2 329.1h0M816.7 327.5h0M816.5 324.6h0M817.7 355.9h0M817.7 354.1h0M817.6 336.9h0M817.3 334.8h0M817.3 332.8h0M818.6 342.5h0M818.4 339.6h0M819.6 335.3h0M819.3 325.8h0M819.8 323.4h0M819.5 321h0M820.4 347.5h0M820.6 345h0M820.3 342.4h0M820.4 340.3h0M820.7 337.9h0M820.4 335.1h0M821.5 343.3h0M821.2 340.2h0M821.5 335.4h0M821.6 332.7h0M821.7 331.3h0M822.2 331.2h0M822.4 328.7h0M822.8 326.1h0M822.6 324h0M822.5 321.2h0M822.6 319.4h0M822.8 316.3h0M822.4 314.6h0M822.4 312.2h0M822.4 309.8h0M822.4 307h0M822.4 304.9h0M823.2 338.1h0" stroke="#436EEE" stroke-width="5.4" stroke-linecap="square" fill="none"/>
<path d="M809 261h0M809 263.4h0M809 265.8h0M809 268.2h0M809 270.6h0M809 273h0M809 275.4h0M809 277.8h0M809 280.2h0M809 282.6h0M809 285h0M809.3 273.2h0M809.3 285.8h0M809.3 293h0M823.6 290.6h0M817.2 290.6h0M781.6 285h0M781.6 293.8h0M777.1 308.8h0M790.3 309.6h0M790.3 321.5h0M820.4 298.5h0" stroke="#3562EC" stroke-width="6.3" stroke-linecap="square" fill="none"/>
<path d="M825.8 508L826 357.5L827 357.5L827 349.7L828 349.7L828 351.4L829 351.4L829 354.6L830 354.6L830 350.2L831 350.2L831 350.7L832 350.7L832 354.4L833 354.4L833 347.4L834 347.4L834 354.2L835 354.2L835 353.8L836 353.8L836 356L837 356L837 350.2L838 350.2L838 355.6L839 355.6L839 353.5L840 353.5L840 349.9L841 349.9L841 351L842 351L842 351.6L843 351.6L843 346.4L844 346.4L844 345.4L845 345.4L845 344.7L846 344.7L846 350.1L847 350.1L847 350.7L848 350.7L848 347.7L849 347.7L849 353.3L850 353.3L850 354.7L851 354.7L851 352.3L852 352.3L852 352.3L853 352.3L853 352.9L854 352.9L854 354.4L855 354.4L855 352.2L856 352.2L856 346.8L857 346.8L857 344.9L858 344.9L858 348.3L859 348.3L859 351.2L860 351.2L860 344.6L861 344.6L861 345.5L862 345.5L862 349.7L863 349.7L863 346.3L864 346.3L864 351.4L865 351.4L865 346.6L866 346.6L866 349.4L867 349.4L867 347.6L868 347.6L868 347.4L869 347.4L869 346.4L870 346.4L870 349.2L871 349.2L871 350.4L872 350.4L872 348.5L873 348.5L873 355.5L874 355.5L874 351.9L875 351.9L875 354.4L876 354.4L876 354.5L877 354.5L877 353.8L878 353.8L878 356.6L879 356.6L879.1 508Z" fill="#EEAD0E"/>
<path d="M828.8 356.2h0M828.8 353.8h0M829.2 322.4h0M829.7 320.2h0M829.5 296.8h0M830.7 348.6h0M830.3 346.5h0M830.7 343.4h0M830.8 341.1h0M830.6 336.5h0M830.4 333.7h0M832.2 354.4h0M832.5 352.3h0M832.5 350.2h0M832.4 347.6h0M832.4 344.5h0M833.8 355.6h0M833.3 352.9h0M833.4 350.1h0M833.2 348.4h0M833.8 346h0M833.5 343.1h0M833.6 341.3h0M833.7 338.1h0M833.6 308.2h0M833.2 305.4h0M833.7 303.3h0M833.6 300.9h0M834.3 343.9h0M834.4 342h0M834.4 338.9h0M834.7 336.1h0M834.2 334.1h0M834.7 331.8h0M834.5 329.4h0M835.4 353.4h0M835.3 335.2h0M835.2 332.7h0M835.6 330.3h0M835.3 327.3h0M835.2 325.2h0M835.2 322.8h0M835.3 321h0M835.8 318.2h0M835.3 306.6h0M836.3 356.4h0M836.2 346.9h0M836.4 345.4h0M836.4 342.2h0M836.7 325.6h0M836.5 323h0M836.3 320.6h0M836.8 318.7h0M837.8 356.8h0M837.5 355.3h0M838.4 357.4h0M838.5 355.9h0M838.3 353.5h0M838.7 326.8h0M838.3 310h0M838.3 307.5h0M838.4 305.9h0M838.4 303.7h0M838.3 301.1h0M838.2 293.9h0M838.3 291.5h0M839.5 356.3h0M839.6 334.9h0M839.6 311.6h0M840.6 330h0M840.5 327.5h0M840.3 300.9h0M840.4 298.6h0M841.5 351.8h0M841.5 349.7h0M841.7 347.2h0M844.3 322.6h0M845.3 352.8h0M845.5 350.2h0M845.5 346.9h0M846.3 348.7h0M846.5 346.1h0M846.7 343.9h0M846.4 341.4h0M846.6 338.9h0M846.5 331.8h0M846.5 329.7h0M846.7 327.6h0M848.5 352.8h0M848.5 350.9h0M848.6 348.6h0M848.2 346h0M850.7 357.2h0M850.4 352.5h0M850.3 349.6h0M850.3 347.2h0M850.5 338.8h0M850.2 335.6h0M850.8 333.2h0M850.7 330.6h0M851.8 353.9h0M851.4 339.6h0M851.3 337.5h0M851.6 335.5h0M851.2 333.4h0M851.3 330.4h0M851.3 327.5h0M851.7 326.1h0M851.6 322.8h0M852.3 356.3h0M853.3 348.3h0M854.5 342.5h0M854.5 340.1h0M854.6 333.7h0M854.2 326.4h0M854.8 324.2h0M854.3 321.6h0M854.8 319.3h0M854.3 316.7h0M855.3 353.5h0M855.3 351.3h0M855.2 336.9h0M855.7 334.7h0M855.4 332.7h0M855.7 330.5h0M855.3 327.6h0M855.3 325.4h0M855.6 323.1h0M855.5 320.5h0M855.4 318.7h0M855.4 315.9h0M855.7 313.6h0M856.4 350.7h0M856.4 349.1h0M856.6 346.6h0M856.5 344.1h0M856.6 341.1h0M856.5 338.5h0M856.7 325.2h0M857.3 352.5h0M857.7 350.8h0M857.7 348h0M857.6 345.7h0M857.3 343.7h0M858.6 352.5h0M858.4 350.6h0M859.5 342.7h0M859.7 340.8h0M859.4 338.4h0M859.8 336h0M860.7 348.2h0M860.5 345.5h0M860.5 343.2h0M861.2 338.6h0M861.8 335.4h0M861.4 333.2h0M861.2 331.4h0M862.5 316.4h0M862.6 314.6h0M862.7 312.3h0M863.4 342.9h0M863.2 307.1h0M864.3 350.7h0M864.2 348.5h0M864.3 345.7h0M864.5 341.8h0M865.5 351.1h0M865.8 348.2h0M865.7 345.9h0M865.6 327.2h0M865.5 325.4h0M865.4 318.5h0M866.7 306.1h0M866.3 304.6h0M866.8 301.8h0M866.7 299.5h0M866.3 296.9h0M866.3 294.5h0M867.2 326.2h0M867.5 324.1h0M867.4 321.1h0M867.4 318.6h0M867.7 316.6h0M867.7 314.3h0M867.4 304.5h0M867.2 302.5h0M867.5 300h0M868.2 347.5h0M868.6 345.5h0M868.4 333.1h0M868.3 330.8h0M868.6 329.1h0M868.4 326.2h0M868.4 300.9h0M868.3 298.5h0M868.3 295.2h0M868.7 293.2h0M868.3 291.3h0M869.7 341.2h0M869.8 313.2h0M870.7 353.8h0M870.7 339h0M870.5 336.2h0M870.4 305.4h0M871.6 356.1h0M871.5 354h0M871.3 351.8h0M871.3 349.5h0M871.5 346.6h0M871.5 327.9h0M871.6 323.3h0M871.3 320.3h0M871.5 317.9h0M871.5 316h0M872.5 349.6h0M872.2 347.1h0M872.5 345.3h0M872.6 342.8h0M872.4 340.5h0M872.5 337.5h0M872.8 335.3h0M872.6 333.2h0M872.6 330.1h0M872.6 328.7h0M872.6 325.4h0M872.8 323.2h0M872.2 319.2h0M872.3 297.5h0M872.6 295h0M873.7 356.6h0M873.4 354.7h0M873.8 352.4h0M873.7 349.5h0M873.4 348h0M873.5 345.4h0M874.7 343.6h0M874.3 326.4h0M874.3 324.3h0M874.2 321.6h0M874.8 315.3h0M875.3 324.5h0" stroke="#EEAD0E" stroke-width="5.4" stroke-linecap="square" fill="none"/>
<path d="M836.4 246h0M836.4 248.4h0M836.4 250.8h0M836.4 253.2h0M836.4 255.6h0M836.4 258h0M836.4 260.4h0M836.4 262.8h0M836.4 273.5h0M856.5 263h0M856.5 267.2h0M856.5 276.7h0M881.2 263h0M881.2 275h0M882.1 263h0M882.1 275h0M836.5 273.2h0M836.5 280.3h0M856.8 277.1h0M881.4 274.8h0M858.1 294.6h0M858.1 298.5h0" stroke="#EBA406" stroke-width="6.3" stroke-linecap="square" fill="none"/>
<path d="M878.7 508L878.9 347.3L879.9 347.3L879.9 347.4L880.9 347.4L880.9 352.1L881.9 352.1L881.9 354.4L882.9 354.4L882.9 349.1L883.9 349.1L883.9 351.1L884.9 351.1L884.9 354.4L885.9 354.4L885.9 355L886.9 355L886.9 354.2L887.9 354.2L887.9 356L888.9 356L888.9 352.9L889.9 352.9L889.9 350.7L890.9 350.7L890.9 346.5L891.9 346.5L891.9 349.4L892.9 349.4L892.9 350.6L893.9 350.6L893.9 349.8L894.9 349.8L894.9 353.6L895.9 353.6L895.9 355.6L896.9 355.6L896.9 351.4L897.9 351.4L897.9 352.5L898.9 352.5L898.9 351.2L899.9 351.2L899.9 348.8L900.9 348.8L900.9 347.4L901.9 347.4L901.9 349L902.9 349L902.9 346.5L903.9 346.5L903.9 350.5L904.9 350.5L904.9 347.5L905.9 347.5L905.9 347.4L906.9 347.4L906.9 356.4L907.9 356.4L907.9 354.3L908.9 354.3L908.9 353.2L909.9 353.2L909.9 353L910.9 353L910.9 353.2L911.9 353.2L911.9 351.9L912.9 351.9L912.9 357.4L913.9 357.4L913.9 348.7L914.9 348.7L914.9 354.6L915.9 354.6L915.9 348.1L916.9 348.1L916.9 352.6L917.9 352.6L917.9 352L918.9 352L918.9 346.6L919.9 346.6L919.9 352.8L920.9 352.8L920.9 345L921.9 345L921.9 352.4L922.9 352.4L922.9 345.7L923.9 345.7L923.9 347.6L924.9 347.6L924.9 345.2L925.9 345.2L925.9 347.7L926.9 347.7L926.9 353.7L927.9 353.7L927.9 350.5L928.9 350.5L928.9 352.7L929.9 352.7L929.9 347.9L930.9 347.9L930.9 355.5L931.9 355.5L931.9 351.2L932.9 351.2L932.9 350L933.9 350L933.9 348.8L934.9 348.8L934.9 355.9L935.9 355.9L935.9 350L936.9 350L937.3 508Z" fill="#436EEE"/>
<path d="M883.1 355.7h0M884.3 328.4h0M884.4 325.9h0M885.7 358.3h0M885.7 356.1h0M885.3 346.5h0M885.6 341.7h0M888.5 325.7h0M889.4 355.5h0M889.3 339.3h0M889.3 335.9h0M889.5 334.5h0M889.6 332h0M889.4 329.1h0M892.6 350.6h0M892.5 347.5h0M892.2 345.6h0M892.5 340.3h0M892.4 338.5h0M892.5 335.4h0M892.1 333.7h0M892.5 331.5h0M892.7 328.5h0M893.6 343.2h0M893.4 341.2h0M893.6 338.9h0M893.2 336.8h0M893.4 331.2h0M893.6 307.6h0M893.6 306.1h0M893.4 302.8h0M893.5 300.9h0M893.4 299h0M893.3 296.6h0M893.2 293.3h0M893.5 291.3h0M894.2 320.9h0M894.5 318.6h0M895.4 356.4h0M895.5 354.2h0M895.2 352.3h0M896.2 321.5h0M896.5 309.4h0M896.3 307.4h0M896.5 305.3h0M897.7 345.6h0M897.6 343.6h0M897.4 340.9h0M897.2 339h0M897.3 336.7h0M897.3 334.2h0M897.7 332h0M897.4 329.3h0M897.3 327h0M897.4 325.1h0M901.4 354.2h0M901.7 352.3h0M901.3 350.3h0M901.3 347.6h0M901.2 345.6h0M901.6 335.9h0M901.3 333.5h0M901.7 331.3h0M901.1 328.2h0M901.3 326.4h0M901.7 323.9h0M901.6 320.8h0M901.2 319.6h0M901.4 316.7h0M901.5 313.7h0M901.2 311.5h0M902.4 353.8h0M904.5 349.8h0M904.3 345h0M904.6 341.8h0M905.6 322.3h0M905.4 318.8h0M905.6 317.2h0M905.2 315.2h0M905.4 312.5h0M906.4 355.6h0M908.5 353.5h0M908.6 351.3h0M908.1 346.3h0M908.5 343.7h0M910.4 356.4h0M910.2 354.2h0M910.5 341.9h0M910.2 339.4h0M911.2 351.6h0M911.6 341.5h0M911.4 338.9h0M911.7 337.2h0M912.5 357.3h0M912.2 355.7h0M912.4 353.4h0M912.4 351.2h0M912.6 343.4h0M912.6 341.7h0M912.7 338.3h0M912.5 337.1h0M913.6 357.5h0M913.3 355.4h0M913.2 353h0M914.6 348h0M915.5 347.1h0M915.6 344.9h0M915.3 342.2h0M915.5 340h0M916.3 346.6h0M917.6 351.2h0M917.7 326.8h0M917.7 324.1h0M917.7 322h0M920.1 353.2h0M920.3 351.1h0M920.2 348.2h0M920.5 346.3h0M922.4 331.4h0M922.5 328.3h0M923.4 340.6h0M923.1 338.8h0M923.6 336.2h0M923.2 333.5h0M923.4 331.5h0M923.6 328.6h0M924.4 336.2h0M924.2 333.7h0M926.5 353.9h0M926.2 350.6h0M926.5 349.3h0M926.2 341.5h0M928.6 344.6h0M928.6 342.2h0M928.3 340.5h0M930.6 343.4h0M930.5 340.4h0M931.5 355.7h0M931.5 353.1h0M931.7 350.8h0M931.2 348.8h0M932.6 356.5h0M932.7 353.5h0M932.7 351h0M932.6 349.5h0M932.6 346.5h0M932.5 343.6h0M932.5 341.6h0" stroke="#436EEE" stroke-width="5.4" stroke-linecap="square" fill="none"/>
<path d="M898.4 260.9h0M911.7 261.9h0M911.7 265.1h0M894 289.8h0M902.8 300.1h0M907.5 309.6h0M912.3 300.9h0M921 304.1h0M919.4 312h0M913.8 321.5h0M927.3 321.5h0M888.5 300.9h0M888.5 312h0" stroke="#3562EC" stroke-width="6.3" stroke-linecap="square" fill="none"/>
<path d="M936.9 508L937.1 345.6L938.1 345.6L938.1 349.8L939.1 349.8L939.1 346.2L940.1 346.2L940.1 350.3L941.1 350.3L941.1 351.3L942.1 351.3L942.1 350.6L943.1 350.6L943.1 347.2L944.1 347.2L944.1 350.3L945.1 350.3L945.1 350.4L946.1 350.4L946.1 352.8L947.1 352.8L947.1 350L948.1 350L948.1 353.3L949.1 353.3L949.1 352.2L950.1 352.2L950.1 349.6L951.1 349.6L951.1 354.4L952.1 354.4L952.1 351.9L953.1 351.9L953.1 348.6L954.1 348.6L954.1 349.1L955.1 349.1L955.1 353.7L956.1 353.7L956.1 346L957.1 346L957.1 352L958.1 352L958.1 347.1L959.1 347.1L959.1 350.7L960.1 350.7L960.1 347.2L961.1 347.2L961.1 347.8L962.1 347.8L962.1 346.1L963.1 346.1L963.1 350.8L964.1 350.8L964.1 345.7L965.1 345.7L965.1 346.9L966.1 346.9L966.1 348.6L967.1 348.6L967.1 351.1L968.1 351.1L968.1 346L969.1 346L969.1 346.9L970.1 346.9L970.1 349.1L971.1 349.1L971.1 348.5L972.1 348.5L972.1 352L973.1 352L973.1 348L974.1 348L974.1 347.1L975.1 347.1L975.1 353.9L976.1 353.9L976.1 348.2L977.1 348.2L977.1 350.7L978.1 350.7L978.1 354.4L979.1 354.4L979.1 353L980.1 353L980.1 353.7L981.1 353.7L981.1 348.1L982.1 348.1L982.1 347.3L983.1 347.3L983.1 508Z" fill="#EEAD0E"/>
<path d="M941.5 341.7h0M941.5 339.2h0M941.4 327.5h0M941.7 324.8h0M943.9 353.2h0M943.6 351.4h0M943.8 348.2h0M945.6 354.3h0M945.5 351.7h0M945.8 349.5h0M945.6 346.2h0M946.4 351.4h0M946.8 349h0M946.6 347.2h0M946.9 345.2h0M946.5 342.4h0M946.7 340h0M946.4 337.3h0M946.4 335.6h0M946.4 332.6h0M946.6 330.4h0M946.8 325.6h0M947.9 351.6h0M947.8 340.3h0M947.4 323.4h0M948.7 338.4h0M948.5 336.1h0M949.5 335.7h0M949.6 334.1h0M949.5 331.9h0M949.6 329.5h0M949.9 321.4h0M949.6 319.1h0M949.6 317.2h0M949.6 315.2h0M949.5 312.6h0M949.7 309.8h0M949.7 308h0M950.8 354.4h0M950.4 348h0M950.5 345.1h0M950.6 340.5h0M950.7 337.9h0M950.6 336.2h0M950.4 334h0M950.4 331.2h0M950.5 328.7h0M950.4 326.5h0M950.6 324.7h0M950.4 321.8h0M951.8 343h0M951.7 340.8h0M951.8 338.8h0M951.3 336.3h0M951.9 333.9h0M951.6 322h0M952.5 352.1h0M952.8 335.6h0M953.5 347.4h0M953.6 345.7h0M954.8 350.5h0M954.3 347.9h0M954.5 344.9h0M955.7 342.7h0M955.5 340.6h0M956.4 351.4h0M956.5 349.1h0M956.8 347.3h0M956.8 345h0M956.4 342.7h0M956.9 339.5h0M956.9 337.4h0M957.7 354.1h0M957.5 337.2h0M959.6 329h0M959.6 326h0M959.7 324.5h0M959.8 321.6h0M960.7 342.5h0M961.7 334h0M962.8 352.3h0M962.4 337.9h0M963.8 352.4h0M963.8 350.7h0M963.4 347.7h0M963.5 344.9h0M963.7 342.6h0M963.7 330.9h0M963.6 329.2h0M963.5 326.2h0M963.9 324.2h0M963.7 321.6h0M963.4 319.9h0M963.6 316.7h0M964.8 345.8h0M964.5 343.5h0M964.3 342h0M964.8 339.3h0M964.8 315.8h0M965.9 344.5h0M965.8 342h0M966.9 335.8h0M966.7 333h0M966.6 330.7h0M966.4 329.2h0M966.6 295.4h0M967.4 319.8h0M967.4 318h0M967.5 315.7h0M967.4 312.3h0M967.9 310h0M967.7 307.9h0M968.7 312h0M968.4 310.4h0M969.8 354.2h0M969.5 352h0M969.4 339.9h0M969.8 337.3h0M969.4 335h0M969.8 295.4h0M970.5 325h0M970.6 322.6h0M970.5 311.6h0M970.5 308.9h0M971.9 338.7h0M971.4 336.8h0M971.5 334.8h0M971.5 296.4h0M971.7 294.1h0M971.4 292.2h0M972.7 334h0M972.6 331.5h0M972.5 328.5h0M972.7 327.1h0M972.7 324.8h0M972.8 321.5h0M972.6 319.9h0M972.8 305.4h0M972.8 302.9h0M972.4 301h0M972.8 298.3h0M972.5 296.1h0M972.4 293.5h0M972.9 291.6h0M973.4 352.2h0M973.9 349.2h0M973.4 347.6h0M973.7 345.7h0M973.9 343.1h0M973.6 339.9h0M973.7 338.5h0M973.5 335.9h0M973.8 290.2h0M974.3 343.6h0M974.4 341.8h0M974.9 339.6h0M974.7 315.2h0M974.3 311h0M975.4 308.7h0M975.4 306.6h0M975.6 304.6h0M975.5 302h0M975.3 292.6h0M975.7 290.7h0M976.8 352.9h0M976.3 350.9h0M976.5 348.3h0M976.8 345.9h0M977.6 356.9h0M977.6 353.9h0M977.6 349h0M977.3 346.9h0M977.8 344.7h0M978.8 334h0M979.6 358.2h0M979.7 347h0M979.8 344.8h0M979.4 341.5h0M979.9 339.3h0M979.7 337.6h0M979.4 335.1h0" stroke="#EEAD0E" stroke-width="5.4" stroke-linecap="square" fill="none"/>
<path d="M977.6 264h0M970.2 274.6h0M970.1 274.8h0M974.8 281.9h0M961.4 313.6h0" stroke="#EBA406" stroke-width="6.3" stroke-linecap="square" fill="none"/>
<path d="M982.7 508L982.9 351.9L983.9 351.9L983.9 349.3L984.9 349.3L984.9 352.5L985.9 352.5L985.9 344.5L986.9 344.5L986.9 348.7L987.9 348.7L987.9 352.2L988.9 352.2L988.9 343.2L989.9 343.2L989.9 345L990.9 345L990.9 347.3L991.9 347.3L991.9 344.1L992.9 344.1L992.9 351.6L993.9 351.6L993.9 344.7L994.9 344.7L994.9 351.4L995.9 351.4L995.9 347.4L996.9 347.4L996.9 348L997.9 348L997.9 351.8L998.9 351.8L998.9 351L999.9 351L999.9 349.7L1000.9 349.7L1000.9 348.4L1001.9 348.4L1001.9 344.8L1002.9 344.8L1002.9 345.7L1003.9 345.7L1003.9 349.1L1004.9 349.1L1004.9 350.9L1005.9 350.9L1005.9 352.1L1006.9 352.1L1006.9 348L1007.9 348L1007.9 347.7L1008.9 347.7L1008.9 346.9L1009.9 346.9L1009.9 346.4L1010.9 346.4L1010.9 353.5L1011.9 353.5L1011.9 353.1L1012.9 353.1L1012.9 349.7L1013.9 349.7L1013.9 350L1014.9 350L1014.9 353.1L1015.9 353.1L1015.9 347.9L1016.9 347.9L1016.9 348.8L1017.9 348.8L1017.9 344.5L1018.9 344.5L1018.9 352.1L1019.9 352.1L1019.9 349.4L1020.9 349.4L1020.9 349.3L1021.9 349.3L1021.9 353L1022.9 353L1022.9 353.8L1023.9 353.8L1023.9 508Z" fill="#436EEE"/>
<path d="M986.5 353.7h0M986.5 350.7h0M986.5 348.6h0M986.2 345.9h0M986.5 299.1h0M986.3 296.6h0M987.4 345.1h0M987.5 343.5h0M987.2 340.6h0M987.4 339.1h0M987.6 336.2h0M987.6 333.6h0M988.2 345.6h0M988.6 342.8h0M988.2 340.9h0M988.3 338.6h0M988.7 335.9h0M988.7 332.9h0M988.6 331.6h0M988.5 314.9h0M988.1 311.7h0M988.2 310.1h0M989.5 344.7h0M989.6 342.1h0M989.2 340.6h0M989.3 337.8h0M989.3 335.8h0M989.6 333.4h0M989.6 331.1h0M989.2 328.6h0M989.1 311.8h0M989.6 309h0M990.4 351.5h0M990.7 349.6h0M990.5 323.6h0M991.4 330.8h0M991.2 327.9h0M991.5 326.4h0M991.7 323.8h0M991.7 321.8h0M991.4 318.9h0M991.2 314.5h0M991.2 312.1h0M991.3 309.9h0M991.3 307h0M991.6 305.2h0M991.6 302.6h0M992.2 307.7h0M992.2 304.9h0M992.3 302.6h0M992.4 300.6h0M995.7 352.1h0M995.5 335.4h0M995.2 329.2h0M995.7 326h0M995.3 324.4h0M995.6 322.2h0M995.3 319.2h0M996.4 352.5h0M996.2 350h0M996.4 347.1h0M996.1 345.2h0M996.1 342.5h0M996.4 340.4h0M996.4 338.1h0M996.4 335.8h0M997.4 321.2h0M998.6 352.5h0M998.7 349.7h0M999.1 333.1h0M1000.3 345.3h0M1000.5 342.4h0M1000.5 333.4h0M1000.4 330.3h0M1000.3 328.5h0M1000.2 325.8h0M1001.2 346.8h0M1001.1 345.3h0M1001.6 341.9h0M1001.6 339.5h0M1001.6 337.9h0M1001.2 334.8h0M1002.2 352.7h0M1002.4 350.2h0M1002.5 348.1h0M1002.7 345.8h0M1002.4 334h0M1002.6 330.9h0M1002.1 329.3h0M1002.7 326.9h0M1002.4 324.5h0M1002.2 321.7h0M1002.3 319.1h0M1002.6 308h0M1002.2 305.1h0M1003.5 346.5h0M1003.5 343.5h0M1003.3 340.9h0M1003.2 339.2h0M1003.5 336.6h0M1003.5 334.1h0M1003.5 332.3h0M1003.3 329.1h0M1003.1 327.1h0M1003.3 324.3h0M1003.3 321.9h0M1003.3 319.7h0M1003.4 317.3h0M1003.3 315.1h0M1003.4 312.6h0M1003.7 311.2h0M1003.3 308.2h0M1004.2 346.7h0M1004.6 343.9h0M1004.7 342.7h0M1004.3 339.7h0M1004.3 336.8h0M1004.3 334.8h0M1004.3 332h0M1005.3 337.5h0M1005.5 335.4h0M1005.3 332.9h0M1005.7 330.6h0M1005.5 328.7h0M1006.3 355.1h0M1006.1 345.5h0M1006.5 342.9h0M1006.3 340.6h0M1006.3 339.1h0M1006.6 336.4h0M1007.5 339.6h0M1007.2 337h0M1007.6 334.9h0M1007.1 332h0M1008.3 355.1h0M1008.1 345.6h0M1008.3 343.4h0M1009.3 355.3h0M1009.2 349.9h0M1009.6 347.6h0M1009.2 345.6h0M1009.5 331.4h0M1009.3 329.5h0M1009.2 326.6h0M1010.3 354.8h0M1010.6 352.8h0M1010.2 349.6h0M1010.3 347.7h0M1010.6 345.6h0M1010.1 331.4h0M1010.2 329h0M1010.5 325.8h0M1010.3 321.4h0M1010.4 319.3h0M1010.2 317h0M1010.3 314.1h0M1010.3 311.7h0M1010.5 309.8h0M1010.6 306.7h0M1010.5 304.8h0M1010.3 302.5h0M1010.5 300.6h0M1010.5 297.9h0M1011.3 335.4h0M1011.5 332.6h0M1011.2 330.2h0M1011.6 328.1h0M1011.6 326h0M1011.2 322.9h0M1011.6 321.3h0M1012.6 346.5h0M1012.7 344.5h0M1012.3 341.6h0M1012.2 339.7h0M1012.2 336.9h0M1013.4 345.4h0M1013.6 344h0M1013.2 341.1h0M1015.4 320.3h0M1016.2 341.9h0M1016.1 338.9h0M1016.3 336.2h0M1016.3 333.8h0M1016.4 318h0M1016.1 315.3h0M1016.5 313h0M1016.7 310.4h0M1016.3 307.9h0M1016.6 305.8h0M1016.6 303.5h0M1016.3 301.7h0M1017.2 345.8h0M1017.4 343.9h0M1017.7 341.4h0M1017.4 338.6h0M1017.6 337.1h0M1017.5 334.3h0M1017.7 331.7h0M1017.2 329.9h0M1017.6 327.8h0M1017.7 325.1h0M1017.5 322.6h0M1017.3 320.2h0M1017.4 317.7h0" stroke="#436EEE" stroke-width="5.4" stroke-linecap="square" fill="none"/>
<path d="M1006.1 265.5h0M1014.1 229.8h0M1018.8 233.4h0M1014.1 258.8h0M1018.8 263h0M991.5 293.8h0M991.1 293.8h0M1006.1 298.5h0M1018.8 285.8h0M1002.2 303.3h0M1016.4 295.3h0M1016.4 301.7h0" stroke="#3562EC" stroke-width="6.3" stroke-linecap="square" fill="none"/>
<path d="M1023.5 508L1023.7 349.5L1024.7 349.5L1024.7 352.6L1025.7 352.6L1025.7 350.8L1026.7 350.8L1026.7 353.8L1027.7 353.8L1027.7 349.9L1028.7 349.9L1028.7 348.8L1029.7 348.8L1029.7 352.6L1030.7 352.6L1030.7 354.6L1031.7 354.6L1031.7 357.3L1032.7 357.3L1032.7 351.9L1033.7 351.9L1033.7 350.1L1034.7 350.1L1034.7 351.9L1035.7 351.9L1035.7 356.2L1036.7 356.2L1036.7 355.8L1037.7 355.8L1037.7 348.6L1038.7 348.6L1038.7 350.4L1039.7 350.4L1039.7 350.6L1040.7 350.6L1040.7 345.5L1041.7 345.5L1041.7 350.2L1042.7 350.2L1042.7 345.7L1043.7 345.7L1043.7 349.6L1044.7 349.6L1044.7 352L1045.7 352L1045.7 349.6L1046.7 349.6L1046.7 353.3L1047.7 353.3L1047.7 355.6L1048.7 355.6L1048.7 354.6L1049.7 354.6L1049.7 349.8L1050.7 349.8L1050.7 348.4L1051.7 348.4L1051.7 355.6L1052.7 355.6L1052.7 347.5L1053.7 347.5L1053.7 354.7L1054.7 354.7L1054.7 351.3L1055.7 351.3L1055.7 353.3L1056.7 353.3L1056.7 347.3L1057.7 347.3L1057.7 508Z" fill="#EEAD0E"/>
<path d="M1029.5 349.6h0M1032 352h0M1032.4 350.5h0M1032 347.9h0M1032.2 345.8h0M1031.9 342.9h0M1032.1 341.2h0M1032 338.2h0M1032.1 335.8h0M1034.5 348.1h0M1034.2 345.8h0M1034.5 343h0M1034 341.2h0M1034 339h0M1034 336.5h0M1033.9 333.2h0M1034.4 331.1h0M1034.1 328.4h0M1034.1 327.1h0M1034.5 323.6h0M1035.2 352.2h0M1038.3 356.6h0M1038.3 353.4h0M1038.4 351.6h0M1038.2 349.2h0M1038.2 346.6h0M1038.5 343.9h0M1038.2 341.4h0M1037.9 332.2h0M1040.1 354.5h0M1040.4 352.1h0M1040.1 349.9h0M1040 321.7h0M1041.3 354.3h0M1041.3 349.3h0M1041.2 347.2h0M1041.2 339.7h0M1041.4 337.5h0M1041.1 335.2h0M1041.3 333.2h0M1043.3 354.4h0M1043 351.7h0M1043 349.8h0M1044.1 352.4h0M1044.1 350h0M1044.2 346.9h0M1044.3 344.9h0M1044.1 343h0M1044 339.9h0M1044 318.8h0M1044 316.7h0M1044.4 314.2h0M1043.9 312.4h0M1045.4 352.9h0M1045.3 350.7h0M1045 345.1h0M1045.3 343.2h0M1045.5 341.2h0M1045 338.5h0M1045.2 305.6h0M1045 302.9h0M1045 300.5h0M1046.1 331.5h0M1045.9 329.3h0M1046.2 326.7h0M1047 330h0M1047.2 327.3h0M1046.9 325h0M1047.1 322.2h0M1047.4 320.8h0M1048.1 356.5h0M1048.4 349.4h0M1049 351.3h0M1049.5 342.5h0M1049 339.7h0M1049.2 336.9h0M1049.3 335.1h0M1049.1 309.3h0M1049.3 307.1h0M1049 304.4h0M1050.2 356.2h0M1050.2 353.5h0M1050 319h0M1050.4 308.6h0M1050.4 307.1h0M1050.1 304.4h0M1049.9 301.7h0M1050.1 299.2h0M1051 342.2h0M1051.5 340h0M1051.1 337.1h0M1051 335.2h0M1051 332.6h0M1051.1 329.6h0M1051.3 327.9h0M1051 325.1h0M1051 323h0M1051.4 321.3h0M1051.5 313.8h0M1051.1 311.1h0M1051.4 298.8h0M1051.4 297.1h0M1052 325.6h0M1052.1 299.1h0M1052.3 297.2h0M1052.5 294.8h0M1052.9 355.9h0M1052.9 353.9h0M1053 351.2h0M1053.3 348.7h0M1053.5 347.2h0M1053.4 344.6h0M1053.1 329.6h0M1053.1 327.7h0M1053.2 325h0M1052.9 322.8h0M1053.4 321.2h0M1053.1 318.2h0M1053 315.5h0M1053 313.9h0M1053.1 310.8h0M1052.9 308.3h0M1052.9 307h0M1053.4 304.4h0M1054.3 347.2h0M1054.1 344.6h0M1054.1 341.8h0M1054 340h0M1054.4 337h0M1054.4 328.2h0M1054.2 325.3h0M1054.4 322.9h0M1054.4 303.7h0M1054.4 298.7h0M1054.1 296.4h0M1055 355.8h0M1055.5 353.7h0M1055.2 350.4h0M1054.9 348.2h0M1055.2 343.6h0M1055.2 341.6h0M1055.2 339.2h0M1055 336.7h0M1055.4 334.2h0M1054.9 332.1h0M1055.1 329.9h0M1055 327.2h0M1055.4 325.2h0M1055.1 315.1h0M1054.9 313.4h0M1055 310.7h0M1055.1 307.8h0M1054.9 305.6h0M1055 302.9h0M1055.2 301.6h0M1055.1 299.1h0M1055.2 296.4h0M1055.2 293.9h0M1055.1 291.5h0" stroke="#EEAD0E" stroke-width="5.4" stroke-linecap="square" fill="none"/>
<path d="M1057.8 218h0M1052.1 225h0M1052.1 231.3h0M1052.1 248.2h0M1057.8 277.1h0M1052.1 259.8h0M1052.1 262.2h0M1052.1 264.6h0M1052.1 267h0M1052.1 269.4h0M1052.1 271.8h0M1052.1 274.2h0M1052.9 272.4h0M1055.2 281.1h0M1035.4 282.7h0M1041 302.5h0M1029.9 334.2h0" stroke="#EBA406" stroke-width="6.3" stroke-linecap="square" fill="none"/>
<path d="M1057.3 508L1057.5 352.9L1058.5 352.9L1058.5 356.2L1059.5 356.2L1059.5 356.1L1060.5 356.1L1060.5 349.7L1061.5 349.7L1061.5 354.4L1062.5 354.4L1062.5 351.7L1063.5 351.7L1063.5 350.4L1064.5 350.4L1064.5 349.2L1065.5 349.2L1065.5 348.5L1066.5 348.5L1066.5 353L1067.5 353L1067.5 344.6L1068.5 344.6L1068.5 347.5L1069.5 347.5L1069.5 343.9L1070.5 343.9L1070.5 349.4L1071.5 349.4L1071.5 353.3L1072.5 353.3L1072.5 348.4L1073.5 348.4L1073.5 350.8L1074.5 350.8L1074.5 352.8L1075.5 352.8L1075.5 346.6L1076.5 346.6L1076.5 355.7L1077.5 355.7L1077.5 353.8L1078.5 353.8L1078.5 355.1L1079.5 355.1L1079.5 350.8L1080.5 350.8L1080.5 356.9L1081.5 356.9L1081.5 350.1L1082.5 350.1L1082.5 355.5L1083.5 355.5L1083.5 353.3L1084.5 353.3L1084.5 348.4L1085.5 348.4L1085.5 351.8L1086.5 351.8L1086.5 354.4L1087.5 354.4L1087.5 350.6L1088.5 350.6L1088.5 347.4L1089.5 347.4L1089.5 349.4L1090.5 349.4L1090.5 349.6L1091.5 349.6L1092.1 508Z" fill="#436EEE"/>
<path d="M1060 355.1h0M1059.7 350.6h0M1059.8 348.3h0M1059.9 345.9h0M1060.3 343.5h0M1059.8 340.5h0M1060 338.7h0M1060.3 336.3h0M1060.2 333.4h0M1060.8 353.8h0M1061 351.5h0M1061.9 355.5h0M1062.2 354.2h0M1062.1 350.8h0M1061.7 349h0M1062.2 346.9h0M1062.1 344.5h0M1062.2 342h0M1064 354.9h0M1064 348.1h0M1064.3 345h0M1064.2 342.7h0M1064.2 333.7h0M1063.9 331.5h0M1063.9 329.3h0M1064.9 352.4h0M1065.1 349.2h0M1065 347.2h0M1065 344.7h0M1065.2 340.7h0M1065.2 338.1h0M1065.8 330.1h0M1066.9 351h0M1066.8 349.3h0M1067.1 329.7h0M1068 353h0M1067.9 350.9h0M1068.2 333.9h0M1067.9 331.9h0M1067.8 329h0M1068.1 327h0M1068.2 325.4h0M1069.7 338.8h0M1070.3 325.9h0M1070.2 323.6h0M1069.9 322.3h0M1071 353.2h0M1071.2 350.4h0M1071 348.1h0M1070.8 321.7h0M1070.8 319.4h0M1070.7 317.8h0M1071.9 345.8h0M1072.1 339.8h0M1072.3 337.3h0M1073 337.2h0M1074.2 354.8h0M1080.9 352.5h0M1080.8 350.2h0M1080.7 348.1h0M1081.7 345.9h0M1082.3 343.9h0M1082.3 341h0M1081.9 321.8h0M1082.8 354.7h0M1082.7 352.1h0M1083.3 349.6h0M1083 347.8h0M1083.1 319h0M1082.8 317.5h0M1082.7 314.7h0M1083 312.2h0M1083 310.3h0M1083.1 307.6h0M1084.2 356.7h0M1085 345.4h0M1084.9 342.7h0M1086.2 354.7h0M1086.2 346.9h0M1087.3 356.6h0M1086.8 354h0M1087 351.9h0M1087.9 353.6h0M1088 343.9h0M1088.2 341.4h0M1087.8 339.2h0M1088.1 337.7h0M1087.8 335.2h0M1088.1 332.5h0M1088 329.5h0M1088 327.9h0M1088.7 355.5h0M1088.7 353.6h0M1089.1 351h0M1089.1 348.7h0M1089.2 346.4h0M1088.9 344.3h0M1089.2 341.8h0M1088.8 324.7h0M1088.8 323.3h0M1089 320.7h0M1089.1 318.1h0M1089.9 356.3h0M1090 353.7h0M1090.3 350.9h0M1090.2 349.3h0M1089.9 346.1h0" stroke="#436EEE" stroke-width="5.4" stroke-linecap="square" fill="none"/>
<path d="M1068.4 235.5h0M1068.4 270h0M1068.4 254.5h0M1068.4 256.9h0M1068.4 259.3h0M1068.4 261.7h0M1067.9 270.8h0M1067.9 282.7h0M1067.9 289h0M1062.4 295.3h0M1071.1 298.5h0M1067.9 301.7h0M1083 291.4h0M1091.7 293.8h0M1094.1 285.8h0M1093.3 304.8h0M1079 308h0" stroke="#3562EC" stroke-width="6.3" stroke-linecap="square" fill="none"/>
<path d="M1091.7 508L1091.9 345.9L1092.9 345.9L1092.9 350.8L1093.9 350.8L1093.9 348.2L1094.9 348.2L1094.9 353.9L1095.9 353.9L1095.9 353.2L1096.9 353.2L1096.9 350.9L1097.9 350.9L1097.9 358L1098.9 358L1098.9 356.4L1099.9 356.4L1099.9 349.5L1100.9 349.5L1100.9 350.8L1101.9 350.8L1101.9 354.2L1102.9 354.2L1102.9 346.5L1103.9 346.5L1103.9 347.8L1104.9 347.8L1104.9 345.3L1105.9 345.3L1105.9 345.6L1106.9 345.6L1106.9 350L1107.9 350L1107.9 344.4L1108.9 344.4L1108.9 347.8L1109.9 347.8L1109.9 349.5L1110.9 349.5L1110.9 351.6L1111.9 351.6L1111.9 346.5L1112.9 346.5L1112.9 347.7L1113.9 347.7L1113.9 353L1114.9 353L1114.9 354.9L1115.9 354.9L1115.9 348.7L1116.9 348.7L1116.9 349L1117.9 349L1117.9 349.9L1118.9 349.9L1118.9 349L1119.9 349L1119.9 350.3L1120.9 350.3L1120.9 346.6L1121.9 346.6L1121.9 344.3L1122.9 344.3L1122.9 348.9L1123.9 348.9L1124.2 508Z" fill="#EEAD0E"/>
<path d="M1094.6 319.7h0M1094.2 316.3h0M1095.2 344.4h0M1095.5 322h0M1095.5 320.6h0M1095.6 317.6h0M1095.7 315.3h0M1095.4 313.1h0M1096.6 344.7h0M1096.2 342.8h0M1096.2 332.7h0M1096.6 316.9h0M1096.6 314.3h0M1096.6 311.7h0M1096.4 308.8h0M1096.7 307.4h0M1097.2 357.2h0M1097.3 355.9h0M1097.6 350.9h0M1097.3 348.8h0M1097.2 345.4h0M1097.5 343h0M1097.7 341.2h0M1098.3 358.5h0M1098.5 332.1h0M1098.4 318.4h0M1098.5 316.2h0M1100.5 327.9h0M1100.2 326.4h0M1100.7 323.8h0M1100.1 320.7h0M1100.5 318.2h0M1104.2 333.6h0M1105.4 334.1h0M1108.7 341.4h0M1108.3 338.8h0M1108.6 336.2h0M1108.6 333.9h0M1109.7 352.5h0M1109.1 351h0M1109.6 347.6h0M1111.2 343.5h0M1111.5 339.3h0M1111.5 331.7h0M1112.3 353.9h0M1112.5 351.6h0M1112.4 349.8h0M1112.6 346.6h0M1112.6 332.9h0M1112.4 330.5h0M1112.3 328.5h0M1113.1 354.6h0M1113.2 340.6h0M1114.6 355h0M1114.3 352.8h0M1114.6 350.6h0M1114.7 348.7h0M1114.3 346.2h0M1114.1 343.4h0M1115.1 356h0M1115.6 353.7h0M1115.2 350.5h0M1115.4 348.6h0M1115.5 346h0M1116.6 356.7h0M1116.4 354.5h0M1116.4 351.2h0M1116.7 337.2h0M1116.2 335.4h0M1117.3 356h0M1117.3 353.8h0M1117.6 343.8h0M1117.2 341.4h0M1117.2 339.4h0M1119.3 349.8h0M1119.6 348.1h0M1120.2 311.1h0M1120.6 302.1h0M1121.4 353.2h0M1121.1 324.6h0M1121.4 322.6h0M1121.5 320.8h0M1121.3 318.1h0M1121.7 315.7h0M1121.7 313.3h0M1121.4 310.3h0M1121.1 308.1h0M1122.5 352.6h0M1122.4 350.2h0M1122.5 338.9h0M1122.1 336.5h0M1122.7 334.5h0M1122.3 332.1h0M1122.6 328.6h0M1122.3 327.3h0M1122.6 324.9h0M1122.1 321.5h0M1122.7 319.8h0M1122.4 317.6h0M1122.6 315.3h0" stroke="#EEAD0E" stroke-width="5.4" stroke-linecap="square" fill="none"/>
<path d="M1095.4 229.4h0M1096.5 251.4h0M1096.5 255.6h0M1123.3 249.3h0M1123.3 254.5h0M1123.3 271.4h0M1123.3 276.3h0M1108 325.1h0M1099.6 301.7h0M1100.4 288.2h0M1114.3 301.7h0M1122.6 270h0M1122.6 272.4h0M1122.6 274.8h0M1122.6 277.2h0M1122.6 279.6h0M1122.6 282h0M1122.6 284.4h0M1122.6 286.8h0M1122.6 289.2h0" stroke="#EBA406" stroke-width="6.3" stroke-linecap="square" fill="none"/>
<path d="M1123.8 508L1124 348.6L1125 348.6L1125 353.2L1126 353.2L1126 351.1L1127 351.1L1127 350.6L1128 350.6L1128 345.3L1129 345.3L1129 346.7L1130 346.7L1130 352.8L1131 352.8L1131 349.5L1132 349.5L1132 352.7L1133 352.7L1133 344.6L1134 344.6L1134 352.3L1135 352.3L1135 352.1L1136 352.1L1136 346.5L1137 346.5L1137 349.3L1138 349.3L1138 346.2L1139 346.2L1139 350.6L1140 350.6L1140 346.6L1141 346.6L1141 353L1142 353L1142 350.1L1143 350.1L1143 352.3L1144 352.3L1144 351.1L1145 351.1L1145 349.7L1146 349.7L1146 355.4L1147 355.4L1147 348L1148 348L1148 356.9L1149 356.9L1149 348.5L1150 348.5L1150 353L1151 353L1151 353.3L1152 353.3L1152 348.1L1153 348.1L1153 347.9L1154 347.9L1154 347.5L1154.8 347.5L1154.8 508Z" fill="#436EEE"/>
<path d="M1126.8 336.1h0M1126.7 300.6h0M1126.7 297.7h0M1126.4 295.6h0M1127.8 354.9h0M1127.2 330.3h0M1127.4 321h0M1127.7 318.7h0M1128.4 318.5h0M1128.4 316h0M1128.6 302.2h0M1128.4 299.1h0M1129.4 353h0M1130.3 352.4h0M1130.7 351.1h0M1130.5 348.3h0M1131.5 350.5h0M1133.6 353.4h0M1134.7 353.1h0M1134.5 351h0M1134.3 348.9h0M1134.4 346.4h0M1134.5 343.5h0M1134.7 341.4h0M1134.8 334.5h0M1134.5 331.8h0M1134.5 329.2h0M1134.4 327.3h0M1134.3 325.2h0M1134.5 322.8h0M1136.5 341.5h0M1136.5 339.3h0M1136.7 331.6h0M1136.8 329.5h0M1136.5 326.9h0M1136.3 324.8h0M1137.3 353.4h0M1137.6 351.1h0M1137.8 348.3h0M1137.4 346.1h0M1137.5 341.3h0M1137.4 339.7h0M1137.6 336.7h0M1137.4 334h0M1137.2 332.5h0M1138.4 329.7h0M1140.6 354.8h0M1140.5 351.7h0M1140.4 349.4h0M1140.3 347.7h0M1140.2 337.8h0M1140.2 335.2h0M1140.4 332.4h0M1140.5 330.1h0M1140.7 328.3h0M1141.6 345.1h0M1142.4 352.4h0M1142.5 337.8h0M1142.3 336.4h0M1142.5 333.2h0M1142.5 330.8h0M1143.5 355h0M1143.4 352.6h0M1143.4 350.6h0M1145.4 353.1h0M1145.2 351.6h0M1145.3 348.6h0M1145.3 346.3h0M1145.5 343.5h0M1145.4 341.5h0M1146.7 348.7h0M1146.7 346.5h0M1146.8 344.1h0M1148.7 357.5h0M1148.3 354.6h0M1148.7 352.8h0M1148.4 349.5h0M1148.7 348.1h0M1148.5 345.2h0M1149.4 356.8h0M1149.6 354.1h0M1149.2 351.5h0M1149.6 349.9h0M1149.8 347.1h0M1149.3 345.6h0M1149.4 342.1h0M1149.5 340.1h0M1149.5 337.4h0M1149.7 335.7h0M1149.4 332.8h0M1149.6 321.3h0M1150.4 356.3h0M1150.4 354.6h0M1150.5 351.4h0M1150.7 349.2h0M1150.4 346.9h0M1151.5 356h0M1152.7 325.6h0" stroke="#436EEE" stroke-width="5.4" stroke-linecap="square" fill="none"/>
<path d="M1127.1 269.3h0M1155.6 253.5h0M1134.4 281.9h0M1127.3 270.8h0M1152.7 326.2h0M1127.3 300.1h0M1132.9 315.9h0" stroke="#3562EC" stroke-width="6.3" stroke-linecap="square" fill="none"/>
<path d="M1154.4 508L1154.6 345.5L1155.6 345.5L1155.6 351.8L1156.6 351.8L1156.6 351.6L1157.6 351.6L1157.6 351.9L1158.6 351.9L1158.6 353.7L1159.6 353.7L1159.6 353.1L1160.6 353.1L1160.6 353.4L1161.6 353.4L1161.6 350L1162.6 350L1162.6 353L1163.6 353L1163.6 347.5L1164.6 347.5L1164.6 351.9L1165.6 351.9L1165.6 344.3L1166.6 344.3L1166.6 348.4L1167.6 348.4L1167.6 344.6L1168.6 344.6L1168.6 350.3L1169.6 350.3L1169.6 353.2L1170.6 353.2L1170.6 353.1L1171.6 353.1L1171.6 352.3L1172.6 352.3L1172.6 353.1L1173.6 353.1L1173.6 353.3L1174.6 353.3L1174.6 349L1175.6 349L1175.6 351L1176.6 351L1176.6 351.5L1177.4 351.5L1177.4 508Z" fill="#EEAD0E"/>
<path d="M1157.3 353.2h0M1157.1 351h0M1157.1 348.8h0M1156.9 341.6h0M1156.9 329.4h0M1158 353.5h0M1158.2 339.2h0M1157.9 337.1h0M1157.8 334.6h0M1159.2 354.2h0M1159 351.8h0M1158.9 337.9h0M1158.8 335.1h0M1159.3 328h0M1159.4 321.4h0M1160.3 347.9h0M1160.1 338.5h0M1160 336.6h0M1160.1 334.5h0M1160 326.5h0M1159.8 324.4h0M1160.2 322h0M1159.9 319.8h0M1162.2 341.1h0M1162.4 338.2h0M1162 336.3h0M1162.3 334h0M1161.9 331.3h0M1162.4 329h0M1162.1 327h0M1163.1 342.9h0M1162.8 326.1h0M1163.2 323.7h0M1163 321.1h0M1163.2 311.9h0M1163 310h0M1163 307h0M1163.9 353.6h0M1164.1 343.9h0M1164.2 332.5h0M1164.2 330.5h0M1165.3 338.9h0M1166.1 352.1h0M1166.2 349.8h0M1166.1 306.7h0M1166.1 305.2h0M1166.3 302.4h0M1167.1 318.7h0M1168.4 342.9h0M1169.1 350.2h0M1170.2 334.9h0M1170 331.8h0M1170.2 329.5h0M1170.3 327.1h0M1170.2 325.1h0M1170 323.1h0M1169.9 320.2h0M1169.9 318.6h0M1170.1 315.8h0M1170 313.5h0M1170 310.4h0M1170.2 308h0M1170 306.4h0M1171.1 328.5h0M1170.8 297.4h0M1170.8 294.8h0M1170.9 292.5h0M1171.2 290.3h0M1172.4 355.1h0M1172.3 340.8h0M1172.2 333.5h0M1172.3 331.1h0M1173.9 317.4h0M1174.4 294.6h0M1175.3 341.4h0M1174.9 339.8h0M1175.4 336.3h0M1175.2 332.1h0M1175 324.5h0M1175.2 310.6h0" stroke="#EEAD0E" stroke-width="5.4" stroke-linecap="square" fill="none"/>
<path d="M1158.4 155.9h0M1158.4 276.7h0M1177.1 216.7h0M1174.6 275.7h0M1158.2 277.9h0M1158.2 285.8h0M1159 309.6h0M1163.7 307.2h0M1174.5 276.3h0" stroke="#EBA406" stroke-width="6.3" stroke-linecap="square" fill="none"/>
<path d="M1177 508L1177.2 346.1L1178.2 346.1L1178.2 350.6L1179.2 350.6L1179.2 347.3L1180.2 347.3L1180.2 350.6L1181.2 350.6L1181.2 352.8L1182.2 352.8L1182.2 355.5L1183.2 355.5L1183.2 354.3L1184.2 354.3L1184.2 351L1185.2 351L1185.2 348.3L1186.2 348.3L1186.2 349.9L1187.2 349.9L1187.2 351.8L1188.2 351.8L1188.2 345.7L1189.2 345.7L1189.2 344L1190.2 344L1190.2 352L1191.2 352L1191.2 345.2L1192.2 345.2L1192.2 348L1193.2 348L1193.2 351L1194.2 351L1194.2 347.5L1195.2 347.5L1195.2 348.8L1196.2 348.8L1196.2 345.7L1197.2 345.7L1197.2 352.6L1198.2 352.6L1198.2 350.9L1199.2 350.9L1199.2 350.7L1200.2 350.7L1200.2 353.3L1201.2 353.3L1201.2 349.1L1202.2 349.1L1202.2 349.9L1203.2 349.9L1203.2 354.4L1204.2 354.4L1204.2 350.9L1205.2 350.9L1205.2 355.2L1206.2 355.2L1206.2 351.8L1207.2 351.8L1207.6 508Z" fill="#436EEE"/>
<path d="M1180.6 355.1h0M1180.6 352.4h0M1180.8 350h0M1181 347.4h0M1180.9 345.2h0M1180.5 333.9h0M1180.7 330.9h0M1180.5 321.3h0M1180.8 319.2h0M1180.7 317.4h0M1181.6 346h0M1181.6 343.7h0M1181.7 314.7h0M1181.5 312.1h0M1181.8 310.2h0M1181.6 307.8h0M1182.5 346.5h0M1182.5 326.9h0M1182.9 324.3h0M1183.9 355.5h0M1184 351.2h0M1184 348.9h0M1183.7 346.2h0M1184 344.3h0M1183.5 341.5h0M1183.4 339.2h0M1183.7 336.6h0M1183.8 335.1h0M1183.7 331.7h0M1183.7 310.5h0M1183.7 308.8h0M1183.6 306.1h0M1183.7 304.3h0M1184.7 355.8h0M1184.9 353.2h0M1184.8 351.1h0M1184.6 339.3h0M1184.5 336.7h0M1184.9 333.9h0M1184.9 331.6h0M1184.7 329h0M1184.8 327.6h0M1184.6 324.5h0M1184.4 322.8h0M1184.6 320.5h0M1184.4 317.5h0M1185.8 354.6h0M1185.6 352.3h0M1185.6 349.7h0M1186 347.6h0M1185.7 343.4h0M1185.5 340.3h0M1185.7 338.5h0M1185.6 293.5h0M1185.6 290.6h0M1186.8 354.7h0M1186.8 352.1h0M1186.7 349.3h0M1186.6 347h0M1186.7 345.1h0M1186.6 325.9h0M1186.9 323.2h0M1187.6 352h0M1187.5 344.8h0M1187.6 341.4h0M1187.7 339.1h0M1187.9 336.8h0M1188.7 352.7h0M1189 350.9h0M1188.6 348.1h0M1188.6 346.5h0M1188.7 343.2h0M1188.9 341.8h0M1188.9 339.1h0M1188.5 337h0M1188.5 334.1h0M1190.8 336.8h0M1190.9 334.2h0M1190.9 331.6h0M1191.4 326.8h0M1192.6 348.4h0M1193 346.4h0M1192.7 343.1h0M1192.6 341h0M1192.6 338.4h0M1192.4 336.6h0M1192.6 334.6h0M1192.7 327.1h0M1192.5 324.3h0M1192.7 317.7h0M1193.9 353.1h0M1193.5 350.7h0M1194 349h0M1193.7 345.8h0M1193.9 336.4h0M1193.9 334.2h0M1193.4 332.1h0M1193.7 329.1h0M1193.5 326.8h0M1193.4 322.4h0M1194.5 339.8h0M1194.7 336.7h0M1194.8 334h0M1194.5 332.6h0M1194.5 329.9h0M1194.7 328h0M1194.4 325.1h0M1194.5 322.2h0M1194.9 320.5h0M1194.4 317.9h0M1194.5 316.1h0M1194.6 313.2h0M1194.6 310.4h0M1194.6 308.5h0M1195.8 353.2h0M1195.5 350.9h0M1196 349.4h0M1195.7 347.1h0M1196 343.6h0M1195.6 342.3h0M1195.8 339.8h0M1195.5 337.5h0M1195.6 334.4h0M1196 332.6h0M1195.5 322.8h0M1195.5 319.9h0M1195.8 317.6h0M1196 315.4h0M1195.7 313h0M1195.5 310.5h0M1195.5 308.7h0M1195.7 306.4h0M1195.6 303.6h0M1195.5 301.7h0M1195.6 299.4h0M1195.7 296.9h0M1196.9 353.7h0M1197 351.7h0M1196.7 342.4h0M1196.7 340.5h0M1197.6 350.6h0M1197.8 348.1h0M1197.5 344.8h0M1197.8 331.4h0M1198 329.2h0M1197.4 325.7h0M1197.4 323.8h0M1198.5 334.3h0M1198.8 332.2h0M1199.7 310.4h0M1199.7 308.2h0M1199.4 306h0M1199.7 303.4h0M1200 301.2h0M1199.6 298.4h0M1200.9 344.1h0M1200.6 341.7h0M1200.8 339.7h0M1200.7 337.9h0M1200.6 335.6h0M1200.7 332.9h0M1201.8 357.1h0M1201.8 355.1h0M1201.7 351.9h0M1202 350.4h0M1201.6 347.6h0M1201.5 342.3h0M1201.6 324.1h0M1201.7 321.8h0M1201.8 319.5h0M1201.9 317h0M1201.5 313.8h0M1202.9 356.8h0M1202.9 354.7h0M1202.7 352.4h0M1202.7 348h0M1202.7 321.3h0M1202.6 318.8h0M1204.8 357.5h0M1204.5 354.7h0M1204.4 352.7h0M1204.8 349.3h0M1205.7 321h0" stroke="#436EEE" stroke-width="5.4" stroke-linecap="square" fill="none"/>
<path d="M1187.9 242.9h0M1187.9 272.9h0M1187.8 273.2h0M1196.5 280.8h0M1203.3 315.1h0M1183.5 292.2h0M1183.5 301.7h0M1182 312h0M1197 304.1h0" stroke="#3562EC" stroke-width="6.3" stroke-linecap="square" fill="none"/>
<path d="M1207.2 508L1207.4 351.2L1208.4 351.2L1208.4 352.9L1209.4 352.9L1209.4 350.1L1210.4 350.1L1210.4 349.3L1211.4 349.3L1211.4 355.2L1212.4 355.2L1212.4 354.6L1213.4 354.6L1213.4 353.1L1214.4 353.1L1214.4 351.7L1215.4 351.7L1215.4 353.5L1216.4 353.5L1216.4 355.9L1217.4 355.9L1217.4 351.2L1218.4 351.2L1218.4 356.1L1219.4 356.1L1219.4 354.1L1220.4 354.1L1220.4 355.6L1221.4 355.6L1221.4 350.5L1222.4 350.5L1222.4 348.6L1223.4 348.6L1223.4 351.5L1224.4 351.5L1224.4 352.5L1225.4 352.5L1225.4 353.9L1226.4 353.9L1226.4 350.8L1227.2 350.8L1227.2 508Z" fill="#EEAD0E"/>
<path d="M1210.1 356.6h0M1209.8 354h0M1210.1 351.1h0M1209.9 349.2h0M1210.7 334.1h0M1211.1 308.9h0M1211.8 353.2h0M1211.9 350.5h0M1212 347.7h0M1211.8 345.4h0M1211.9 339.2h0M1212 336.6h0M1211.7 333.8h0M1212.1 331.5h0M1211.9 329.4h0M1212.1 326.6h0M1212 324.1h0M1211.8 322.6h0M1212 317.1h0M1211.7 315.2h0M1211.7 312.7h0M1212.1 309.8h0M1213.1 354.8h0M1213.1 352.8h0M1212.9 349.6h0M1212.6 347.9h0M1212.7 345.6h0M1212.9 335.5h0M1212.9 334h0M1213.1 331.6h0M1213.7 354h0M1213.9 335.9h0M1213.8 333h0M1214.2 325.5h0M1214.1 323.9h0M1213.9 307h0M1214.1 304.2h0M1214.8 343.7h0M1214.6 340.6h0M1214.6 300h0M1215.8 350.8h0M1215.9 348.9h0M1216 346.5h0M1216.1 344.2h0M1215.7 325h0M1215.9 313.1h0M1215.7 310.3h0M1216.2 307.9h0M1216.1 305.5h0M1216.2 303.4h0M1215.9 301.5h0M1217 353.7h0M1216.7 351.1h0M1217.1 349.8h0M1216.9 347.3h0M1216.8 344.8h0M1217 299h0M1217.6 356.6h0M1217.8 354.3h0M1218.1 352.8h0M1217.8 347.3h0M1218 339.9h0M1217.7 338.1h0M1218.2 336.1h0M1218 333.9h0M1218.1 312.4h0M1217.9 309.5h0M1219 357.4h0M1219.1 341.1h0M1219 339.2h0M1218.8 336.9h0M1220.2 356.2h0M1219.7 318.3h0M1220.8 348.6h0M1220.8 346.1h0M1221.2 343h0M1221 340.9h0M1220.8 338.7h0M1221.2 312.2h0M1220.6 310.1h0M1220.8 307.5h0M1220.7 305.5h0M1220.9 303.2h0M1221.1 300.7h0M1222 357.4h0M1221.8 354.4h0M1221.7 351.9h0M1222 350.3h0M1222 331.5h0M1222.1 328.5h0M1221.9 325.9h0M1222.1 324.6h0M1222.2 321.6h0M1221.9 319.1h0M1222.2 303h0M1222.1 300.3h0M1223 356h0M1223 345.2h0M1223 342.7h0M1223.8 346.6h0M1224.1 334.7h0M1225.2 353.5h0M1225.2 350.4h0" stroke="#EEAD0E" stroke-width="5.4" stroke-linecap="square" fill="none"/>
<path d="M1219 252.9h0M1219 261.5h0M1219 264.5h0M1213.7 275.7h0M1219 276.1h0M1212.9 276.3h0M1212.9 284.3h0M1212.9 292.2h0M1217.6 277.1h0M1216 295.3h0" stroke="#EBA406" stroke-width="6.3" stroke-linecap="square" fill="none"/>
<path d="M1226.8 508L1227 349.8L1228 349.8L1228 351.1L1229 351.1L1229 355.6L1230 355.6L1230 350.8L1231 350.8L1231 352.2L1232 352.2L1232 353.9L1233 353.9L1233 350.9L1234 350.9L1234 352.9L1235 352.9L1235 352.2L1236 352.2L1236 350.3L1237 350.3L1237 345.6L1238 345.6L1238 348.5L1239 348.5L1239 349.4L1240 349.4L1240 348.9L1241 348.9L1241 351.6L1242 351.6L1242 349.2L1243 349.2L1243 350L1244 350L1245.8 355.4L1246.3 360.4L1245.8 368.4L1245.5 373.6L1246.1 382.4L1245.8 389.3L1246.3 394.9L1246.2 402.4L1244.9 410.4L1245.3 415.7L1244.9 419.9L1246.4 425.4L1246 434.2L1246 442.5L1246 447.9L1246 456.8L1246 465.7L1246 470.1L1246 477.3L1246 482.7L1246 489.4L1246 494.6L1246 503.5L1246.2 508Z" fill="#436EEE"/>
<path d="M1230.3 331.5h0M1230.2 329.3h0M1230.4 326.7h0M1230.5 324.6h0M1231.5 354.5h0M1231.3 340.8h0M1231.3 333.5h0M1231.3 331.3h0M1231.4 306.8h0M1232.7 354.5h0M1232.2 352.1h0M1232.7 348.8h0M1232.4 332.3h0M1232.7 330.8h0M1232.5 327.5h0M1232.5 325.9h0M1232.2 322.6h0M1232.6 320.7h0M1232.5 318.4h0M1232.8 315.6h0M1232.3 296.9h0M1232.7 295h0M1233.3 313.5h0M1233.6 310h0M1234.4 353.5h0M1234.3 350.6h0M1234.6 327.3h0M1234.4 324.3h0M1234.3 295.7h0M1234.3 293.8h0M1234.3 291.9h0M1235.8 350.3h0M1235.4 348.7h0M1235.7 329.1h0M1235.4 327.4h0M1235.7 324.1h0M1235.5 322.1h0M1235.4 319.9h0M1235.4 314.4h0M1235.4 312.1h0M1235.8 310.3h0M1235.7 307.8h0M1235.4 305.4h0M1235.3 296.4h0M1235.8 293.4h0M1235.6 291.2h0M1236.5 348h0M1236.3 345.1h0M1236.5 342.8h0M1236.7 341.5h0M1236.5 338.1h0M1236.5 336.3h0M1236.6 300.3h0M1237.5 328.6h0M1237.6 321.8h0M1237.8 319.5h0M1237.7 317.6h0M1237.3 314.7h0M1237.7 309.6h0M1238.7 311.8h0M1238.3 310.2h0M1239.8 326.4h0M1239.4 324.2h0M1239.6 314.1h0M1239.5 311.7h0M1239.3 309.9h0M1239.3 293.4h0M1240.5 353h0M1240.6 350.4h0M1240.5 348.9h0M1240.8 346.2h0M1240.5 344.1h0M1240.2 336.6h0M1240.7 334.2h0M1241.6 349.4h0M1241.7 333.1h0M1241.6 331h0M1242.6 345h0M1242.6 343.1h0M1243.3 355.4h0M1243.3 353.7h0M1243.6 350.8h0M1243.4 348.7h0M1244.8 344.6h0M1244.8 330.3h0M1244.7 328.5h0" stroke="#436EEE" stroke-width="5.4" stroke-linecap="square" fill="none"/>
<path d="M1240.7 264h0M1240.7 270.4h0M1240.6 270.8h0M1235.8 292.2h0" stroke="#3562EC" stroke-width="6.3" stroke-linecap="square" fill="none"/>
<path d="M144 362.9h0M149.5 358.5h0M153.5 356.7h0M160.6 353.5h0M160.6 358.7h0M164.2 356.9h0M165.6 360.5h0M177.7 355.7h0M188.3 355.3h0M202 359.5h0M207.4 354h0M266.8 357.8h0M275.7 356.5h0M276.5 363h0M300 357h0M300.8 357h0M328.6 358.2h0M355.4 361.9h0M359.8 359.7h0M374 362.6h0M402.9 369.3h0M417.8 373.1h0M421.7 365.3h0M429.3 366.6h0M457.7 361.9h0M472.1 354.6h0M509.7 353h0M511.3 359.5h0M517.5 357h0M539.2 353.6h0M558.8 365h0M594.9 352.8h0M634.8 354.8h0M651.4 355.7h0M671.6 373.7h0M677.9 352.7h0M709.5 356h0M721.5 361h0M724.3 355.6h0M729.9 355.7h0M739.6 352.1h0M744.4 359.8h0M747 355.8h0M782.3 360.3h0M797.5 363.5h0M836.9 356.8h0M843.5 355.4h0M852.5 355.9h0M858.9 353.5h0M859.5 352.9h0M870.1 360h0M882 364.2h0M898.6 357.6h0M909.5 366.8h0M925.8 353.3h0M927.2 360.9h0M928.9 355.6h0M933.1 360.8h0M952.2 357.6h0M955.9 354.3h0M969.3 354.1h0M972.8 352.2h0M987.6 357.9h0M991 354.8h0M1008.7 355.7h0M1019.3 374.4h0M1033.5 364.6h0M1036.1 356.7h0M1038.4 360.2h0M1057.5 360h0M1073.6 367.9h0M1083.4 357.3h0M1116.8 365.8h0M1150.8 355.8h0M1199.3 360.1h0M1206.8 366.1h0" stroke="#fff" stroke-width="2" stroke-linecap="square" fill="none" opacity="0.8"/>
<path d="M1076.9 388.6h0M1077.4 395.7h0M1076.5 404.1h0M1076.8 422.1h0" stroke="#fff" stroke-width="1.8" stroke-linecap="square" fill="none" opacity="0.8"/>
<path d="M173.2 510L173.4 506L173.1 502L173.1 498L173.4 494L172.9 490L173.2 486L173.6 482L172.9 478L172.8 474L172.9 470L173.7 466L173.3 462L173.7 458L173.3 454L173 450L172.9 446L173.2 442L173.1 438L172.9 434L173.2 430L173.3 426L173 422L173 418L173.1 414L172.9 410L173.3 406L173.7 402L173 398L173.7 394L173.5 390L173.6 386L172.7 382L173 378L173.2 374L172.8 370L173 366L173 362L173 358L173.2 354L172.7 350L172.4 346L172.1 342L171.2 338L170.9 334L170.1 330L169.9 326L169.1 322L169.1 318L168.9 314L168.8 310L169 306L169.3 302L169.1 298L169.1 294L168.5 290L169 286L180.6 286L180.6 290L180.3 294L180.3 298L180.6 302L180.7 306L180.7 310L180.2 314L180.5 318L179.9 322L179.8 326L179.4 330L178.7 334L177.8 338L177.2 342L177.1 346L176.4 350L176 354L176.1 358L175.9 362L176.2 366L176.2 370L176.1 374L176.2 378L176.3 382L176 386L176.4 390L176 394L176.3 398L176.1 402L176.5 406L175.9 410L176.2 414L176.3 418L176.2 422L176.2 426L176.3 430L176.1 434L176 438L176.2 442L176.1 446L176.1 450L176.3 454L176.1 458L176.1 462L176 466L175.9 470L176.3 474L176.4 478L175.9 482L176.1 486L176.3 490L176.4 494L176.1 498L176.4 502L176.2 506L176.2 510Z" fill="#fff"/>
<path d="M741.1 510L741.3 506L740.5 502L741.2 498L740.8 494L740.4 490L740.6 486L740.2 482L740.9 478L740 474L740.1 470L740.3 466L740.7 462L740.4 458L739.7 454L740.5 450L740.5 446L740.2 442L739.7 438L739.6 434L740 430L739.7 426L740.3 422L739.8 418L740.4 414L739.7 410L739.8 406L739.6 402L739.8 398L740.1 394L739.6 390L739.3 386L740.2 382L739.5 378L739.8 374L739.7 370L739.2 366L740.1 362L739.2 358L739.2 354L739.7 350L739 346L739 342L739.6 338L739.1 334L739.2 330L739.3 326L738.3 322L738.7 318L738.9 314L739 310L738.4 306L738.5 302L737.9 298L738 294L738.1 290L738.1 286L746.7 286L746.6 290L746.6 294L746.6 298L746.7 302L746.8 306L746.6 310L746.3 314L746.5 318L746.3 322L746.4 326L746.3 330L745.9 334L746 338L745.4 342L745.5 346L745.7 350L745.1 354L745.1 358L745.5 362L745.5 366L745.3 370L745.5 374L745 378L745.3 382L745.5 386L745 390L744.9 394L745.3 398L745.2 402L744.9 406L745.1 410L745 414L745 418L745.1 422L744.9 426L745 430L744.7 434L744.7 438L745.1 442L744.6 446L744.5 450L744.6 454L745 458L744.7 462L744.7 466L744.3 470L744.8 474L744.2 478L744.3 482L744.5 486L744.4 490L744.1 494L744.4 498L744.1 502L743.9 506L743.7 510Z" fill="#fff"/>
<path d="M1076.9 370L1076.8 366L1076.6 362L1076.4 358L1076.1 354L1075.9 350L1075.5 346L1076 342L1075.5 338L1075.1 334L1075.1 330L1075 326L1075.2 322L1074.2 318L1074.3 314L1074.7 310L1074.3 306L1074.3 302L1074.5 298L1073.8 294L1074 290L1074.5 286L1080.2 286L1080 290L1079.7 294L1079.5 298L1079.6 302L1079.3 306L1079.6 310L1079.6 314L1079.5 318L1079.3 322L1079 326L1078.8 330L1078.9 334L1078.7 338L1078.1 342L1078 346L1077.9 350L1078 354L1077.6 358L1077.4 362L1077.2 366L1077.1 370Z" fill="#fff"/>
<path d="M936.6 510L936.6 506L936.6 502L936.6 498L936.6 494L936.6 490L936.6 486L936.6 482L936.6 478L936.6 474L936.6 470L936.6 466L936.6 462L936.6 458L936.6 454L936.6 450L936.6 446L936.6 442L936.5 438L936.5 434L936.5 430L936.5 426L936.5 422L936.5 418L936.5 414L936.5 410L936.5 406L936.5 402L936.5 398L936.5 394L936.5 390L936.5 386L936.5 382L936.5 378L936.5 374L935.9 370L936.7 366L936.2 362L936 358L935.7 354L936 350L935.8 346L935.6 342L935.1 338L935.5 334L935 330L935.3 326L934.8 322L934.7 318L935.5 314L935.5 310L935 306L934.7 302L935.2 298L935 294L934.8 290L935.2 286L938.9 286L939 290L939.1 294L939 298L938.9 302L938.8 306L939.2 310L938.9 314L938.9 318L939.4 322L939.3 326L939.3 330L939.1 334L938.7 338L938.8 342L939 346L938.8 350L938.2 354L938.1 358L938 362L937.7 366L937.9 370L937.7 374L937.7 378L937.7 382L937.7 386L937.7 390L937.7 394L937.7 398L937.7 402L937.7 406L937.7 410L937.7 414L937.7 418L937.7 422L937.7 426L937.7 430L937.7 434L937.7 438L937.6 442L937.6 446L937.6 450L937.6 454L937.6 458L937.6 462L937.6 466L937.6 470L937.6 474L937.6 478L937.6 482L937.6 486L937.6 490L937.6 494L937.6 498L937.6 502L937.6 506L937.6 510Z" fill="#fff"/>
<path d="M982.2 510L982.2 506L982.2 502L982.2 498L982.2 494L982.2 490L982.2 486L982.2 482L982.2 478L982.2 474L982.2 470L982.2 466L982.2 462L982.2 458L982.2 454L982.2 450L982.2 446L982.2 442L982.2 438L982.2 434L982.2 430L982.2 426L982.2 422L982.2 418L982.2 414L982.2 410L982.2 406L982.2 402L982.2 398L982.2 394L982.2 390L982.2 386L982.2 382L982.2 378L982.2 374L982.2 370L982.2 366L982.2 362L982.2 358L982.2 354L982.2 350L982.1 346L981.6 342L981.6 338L981.8 334L981.5 330L981.7 326L982.1 322L981.2 318L982.1 314L981.5 310L981.5 306L981.8 302L981.5 298L981.6 294L981.5 290L981.4 286L983.9 286L983.9 290L983.6 294L983.4 298L983.8 302L984 306L983.4 310L983.6 314L983.9 318L983.5 322L983.4 326L983.5 330L983.7 334L983.5 338L983.6 342L983.3 346L983.2 350L983.2 354L983.2 358L983.2 362L983.2 366L983.2 370L983.2 374L983.2 378L983.2 382L983.2 386L983.2 390L983.2 394L983.2 398L983.2 402L983.2 406L983.2 410L983.2 414L983.2 418L983.2 422L983.2 426L983.2 430L983.2 434L983.2 438L983.2 442L983.2 446L983.2 450L983.2 454L983.2 458L983.2 462L983.2 466L983.2 470L983.2 474L983.2 478L983.2 482L983.2 486L983.2 490L983.2 494L983.2 498L983.2 502L983.2 506L983.2 510Z" fill="#fff"/>
<path d="M1022.6 510L1023 506L1022.7 502L1023.2 498L1022.9 494L1023.3 490L1022.5 486L1023.2 482L1022.7 478L1022.9 474L1022.7 470L1023.1 466L1022.7 462L1022.9 458L1022.4 454L1022.4 450L1022.7 446L1022.9 442L1023.1 438L1023.1 434L1022.9 430L1022.4 426L1023.1 422L1023.1 418L1023.2 414L1022.2 410L1022.7 406L1023.2 402L1022.3 398L1022.6 394L1022.3 390L1023.1 386L1022.9 382L1022.2 378L1022.5 374L1022.2 370L1021.5 366L1021.5 362L1020.5 358L1020.6 354L1020.2 350L1020.4 346L1020.5 342L1020.3 338L1019.9 334L1020.3 330L1019.7 326L1019.4 322L1020.1 318L1019.6 314L1020.1 310L1020.2 306L1020.1 302L1020 298L1019.8 294L1019.7 290L1020.1 286L1027.6 286L1027.5 290L1027.9 294L1027.6 298L1027.8 302L1027.7 306L1028 310L1027.6 314L1027.4 318L1027.7 322L1027.8 326L1027.5 330L1027.3 334L1027.5 338L1027.5 342L1027.1 346L1026.8 350L1026.6 354L1026.6 358L1026.3 362L1025.8 366L1025.8 370L1025.6 374L1025.1 378L1024.7 382L1024.8 386L1024.9 390L1024.7 394L1024.4 398L1024.6 402L1024.7 406L1024.4 410L1024.8 414L1024.6 418L1024.9 422L1024.5 426L1024.8 430L1024.3 434L1024.9 438L1024.4 442L1024.6 446L1024.7 450L1024.8 454L1024.3 458L1024.4 462L1024.7 466L1024.8 470L1024.7 474L1024.7 478L1024.6 482L1024.7 486L1024.5 490L1024.8 494L1024.3 498L1024.8 502L1024.7 506L1024.5 510Z" fill="#fff"/>
</g>
<g filter="url(#bl2)" fill="none"><path d="M90.6 138.3H1270" stroke="#ffcaca" stroke-width="2.6"/><path d="M90.6 136.2H1270" stroke="#ff8e8e" stroke-width="1.9"/><path d="M90.6 252.8H1269.6" stroke="#6c6cff" stroke-width="1.8"/></g>
<g filter="url(#bt)"><path d="M224.1 69.1h10.8v32.2h10.6L229.5 132.9L213.5 101.3h10.6z" fill="#4472C4"/><path d="M543 67.2h10.8v32.2h10.6L548.4 131L532.4 99.4h10.6z" fill="#4472C4"/><path d="M660 67.2h10.8v32.2h10.6L665.4 131L649.4 99.4h10.6z" fill="#4472C4"/><path d="M1146.7 69.3h10.8v32.2h10.6L1152.1 133.1L1136.1 101.5h10.6z" fill="#4472C4"/></g>
<text class="sr" x="62.6" y="27.7" font-size="41.5">a</text>
<text class="sr" x="1358.5" y="29.4" font-size="42">b</text>
<text class="sr" x="170.5" y="27.4" font-size="29.5" textLength="121.5" lengthAdjust="spacingAndGlyphs">rs2959223</text>
<text class="sr" x="470.7" y="28.4" font-size="29.5" textLength="122.5" lengthAdjust="spacingAndGlyphs">rs9463787</text>
<text class="sr" x="612" y="27.7" font-size="29.5" textLength="151.5" lengthAdjust="spacingAndGlyphs">rs117188076</text>
<text class="sr" x="1079" y="30.4" font-size="30" textLength="136.5" lengthAdjust="spacingAndGlyphs">rs74675399</text>
<text class="ss" x="58.3" y="513.1" font-size="26.5" text-anchor="middle">0</text>
<text class="ss" x="57" y="412.2" font-size="26.5" text-anchor="middle">2</text>
<text class="ss" x="55.5" y="311.4" font-size="26.5" text-anchor="middle">4</text>
<text class="ss" x="56.8" y="210.6" font-size="26.5" text-anchor="middle">6</text>
<text class="ss" x="58.8" y="111.1" font-size="26.5" text-anchor="middle">8</text>
<text class="ss" x="170.2" y="556.6" font-size="21" text-anchor="middle">1</text>
<text class="ss" x="265.3" y="556.6" font-size="21" text-anchor="middle">2</text>
<text class="ss" x="354" y="556.6" font-size="21" text-anchor="middle">3</text>
<text class="ss" x="425.2" y="556.6" font-size="21" text-anchor="middle">4</text>
<text class="ss" x="502.2" y="556.6" font-size="21" text-anchor="middle">5</text>
<text class="ss" x="565" y="556.6" font-size="21" text-anchor="middle">6</text>
<text class="ss" x="636.3" y="556.6" font-size="21" text-anchor="middle">7</text>
<text class="ss" x="689.1" y="556.6" font-size="21" text-anchor="middle">8</text>
<text class="ss" x="748.5" y="556.6" font-size="21" text-anchor="middle">9</text>
<text class="ss" x="801.5" y="556.6" font-size="21" text-anchor="middle">10</text>
<text class="ss" x="855" y="556.6" font-size="21" text-anchor="middle">11</text>
<text class="ss" x="907.7" y="556.6" font-size="21" text-anchor="middle">12</text>
<text class="ss" x="961" y="556.6" font-size="21" text-anchor="middle">13</text>
<text class="ss" x="1002.6" y="556.6" font-size="21" text-anchor="middle">14</text>
<text class="ss" x="1043.7" y="556.6" font-size="21" text-anchor="middle">15</text>
<text class="ss" x="1108.8" y="556.6" font-size="21" text-anchor="middle">17</text>
<text class="ss" x="1168.3" y="556.6" font-size="21" text-anchor="middle">19</text>
<text class="ss" x="1214.2" y="556.6" font-size="21" text-anchor="middle">21</text>
<text class="ss" x="573.8" y="605.8" font-size="29.3" textLength="182" lengthAdjust="spacingAndGlyphs">Chromosome</text>
<text class="ss" transform="translate(22.1 299.8) rotate(-90)" font-size="29.1">- log<tspan font-size="12.3" dy="6.3">10</tspan><tspan dy="-6.3">(</tspan><tspan font-style="italic">P</tspan>)</text>
<g filter="url(#bl)" fill="none">
<path d="M1428.3 459V60.8H1892.2V471H1432" stroke="#9c9c9c" stroke-width="2.7"/><path d="M1428.3 60.8V460" stroke="#828282" stroke-width="3.1"/><g stroke="#a0a0a0" stroke-width="2.6"><path d="M1445.3 471V480.2"/><path d="M1420.8 455.8H1428.3"/><path d="M1505.5 471V480.2"/><path d="M1420.8 400.9H1428.3"/><path d="M1565.7 471V480.2"/><path d="M1420.8 345.9H1428.3"/><path d="M1625.8 471V480.2"/><path d="M1420.8 291H1428.3"/><path d="M1686 471V480.2"/><path d="M1420.8 236H1428.3"/><path d="M1746.2 471V480.2"/><path d="M1420.8 181.1H1428.3"/><path d="M1806.4 471V480.2"/><path d="M1420.8 126.2H1428.3"/><path d="M1866.6 471V480.2"/><path d="M1420.8 71.2H1428.3"/></g></g>
<g filter="url(#bl)">
<path d="M1428.6 471L1878.2 60.6" stroke="#ff8585" stroke-width="2" fill="none"/>
<g stroke="#000" stroke-linecap="round" stroke-linejoin="round" fill="none"><path d="M1445.8 455L1520 387" stroke-width="7.2"/><path d="M1520 387L1573.5 337.8" stroke-width="6.4"/><path d="M1573.5 337.8L1650.2 266.6L1675.8 239L1686 226.3L1696.2 221.2" stroke-width="5.5"/><path d="M1696.2 221.2L1703.9 208.4L1714.1 198.1L1726.9 190.5L1734.6 177.7L1739.7 169.5L1747.7 153.2L1762.5 151.9" stroke-width="4.9"/><path d="M1775.2 143.4L1781.5 141.3M1781.8 132.6L1785.8 129.3L1796.3 128.7L1806.9 123.4L1813.2 121.3" stroke-width="4.5"/><path d="M1875.1 75.8h0M1846.4 97.6h0M1832.6 101.2h0M1824.2 111.3h0M1817.4 110.7h0" stroke-width="5.3"/></g>
<path d="M1446 455.1L1640 278" stroke="#ff0000" stroke-width="1.6" opacity="0.2" fill="none"/>
</g>
<text class="ss" transform="translate(1403 455.4) rotate(-90)" font-size="25" text-anchor="middle">0</text>
<text class="ss" transform="translate(1403 407.9) rotate(-90)" font-size="25" text-anchor="middle">1</text>
<text class="ss" transform="translate(1403 352.1) rotate(-90)" font-size="25" text-anchor="middle">2</text>
<text class="ss" transform="translate(1403 297) rotate(-90)" font-size="25" text-anchor="middle">3</text>
<text class="ss" transform="translate(1403 242.3) rotate(-90)" font-size="25" text-anchor="middle">4</text>
<text class="ss" transform="translate(1403 181) rotate(-90)" font-size="25" text-anchor="middle">5</text>
<text class="ss" transform="translate(1403 124.5) rotate(-90)" font-size="25" text-anchor="middle">6</text>
<text class="ss" transform="translate(1403 71.5) rotate(-90)" font-size="25" text-anchor="middle">7</text>
<text class="ss" x="1451.9" y="519.3" font-size="24.6" text-anchor="middle">0</text>
<text class="ss" x="1506.6" y="519.3" font-size="24.6" text-anchor="middle">1</text>
<text class="ss" x="1568.6" y="519.3" font-size="24.6" text-anchor="middle">2</text>
<text class="ss" x="1630.9" y="519.3" font-size="24.6" text-anchor="middle">3</text>
<text class="ss" x="1686.1" y="519.3" font-size="24.6" text-anchor="middle">4</text>
<text class="ss" x="1748.1" y="519.3" font-size="24.6" text-anchor="middle">5</text>
<text class="ss" x="1810.4" y="519.3" font-size="24.6" text-anchor="middle">6</text>
<text class="ss" x="1871.9" y="519.3" font-size="24.6" text-anchor="middle">7</text>
<text class="ss" x="1530.2" y="571.7" font-size="28.6">Expected - log<tspan font-size="12.3" dy="6.3">10</tspan><tspan dy="-6.3">(</tspan><tspan font-style="italic">P</tspan>)</text>
<text class="ss" transform="translate(1348.4 386.3) rotate(-90)" font-size="28.8">Observed - log<tspan font-size="12.3" dy="6.3">10</tspan><tspan dy="-6.3">(</tspan><tspan font-style="italic">P</tspan>)</text>
<text class="sr" x="1468" y="128.3" font-size="42">λ<tspan font-size="28" dy="5.5">median</tspan><tspan dy="-5.5" dx="2"> = 1.016</tspan></text>
</svg>
</body></html>
